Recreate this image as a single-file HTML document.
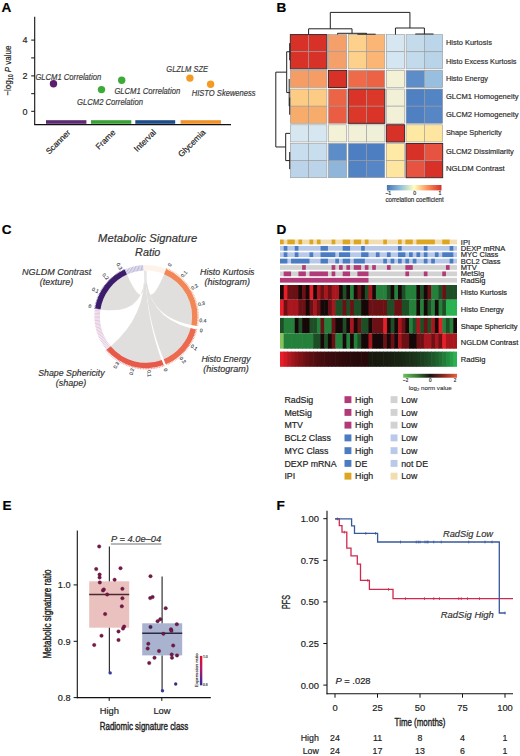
<!DOCTYPE html>
<html><head><meta charset="utf-8"><style>
html,body{margin:0;padding:0;background:#fff;}
svg{display:block;}
text{font-family:"Liberation Sans", sans-serif;}
</style></head><body>
<svg width="520" height="756" viewBox="0 0 520 756" font-family="&quot;Liberation Sans&quot;, sans-serif">
<rect x="0" y="0" width="520" height="756" fill="#fff"/>
<text x="1.50" y="12.20" font-size="13.60" text-anchor="start" fill="#000" font-weight="bold"  stroke="#000" stroke-width="0.18">A</text>
<text x="276.50" y="12.20" font-size="13.60" text-anchor="start" fill="#000" font-weight="bold"  stroke="#000" stroke-width="0.18">B</text>
<text x="1.80" y="234.30" font-size="13.60" text-anchor="start" fill="#000" font-weight="bold"  stroke="#000" stroke-width="0.18">C</text>
<text x="276.50" y="234.30" font-size="13.60" text-anchor="start" fill="#000" font-weight="bold"  stroke="#000" stroke-width="0.18">D</text>
<text x="2.50" y="509.90" font-size="13.60" text-anchor="start" fill="#000" font-weight="bold"  stroke="#000" stroke-width="0.18">E</text>
<text x="276.50" y="509.90" font-size="13.60" text-anchor="start" fill="#000" font-weight="bold"  stroke="#000" stroke-width="0.18">F</text>
<line x1="34.70" y1="16.80" x2="34.70" y2="124.80" stroke="#111" stroke-width="1.10" />
<line x1="34.20" y1="124.60" x2="231.00" y2="124.60" stroke="#111" stroke-width="1.10" />
<line x1="31.20" y1="40.10" x2="34.70" y2="40.10" stroke="#111" stroke-width="1.00" />
<text x="27.40" y="43.30" font-size="9.00" text-anchor="end" fill="#222"  stroke="#222" stroke-width="0.18">4</text>
<line x1="31.20" y1="57.90" x2="34.70" y2="57.90" stroke="#111" stroke-width="1.00" />
<line x1="31.20" y1="75.90" x2="34.70" y2="75.90" stroke="#111" stroke-width="1.00" />
<text x="27.40" y="79.10" font-size="9.00" text-anchor="end" fill="#222"  stroke="#222" stroke-width="0.18">2</text>
<line x1="31.20" y1="93.70" x2="34.70" y2="93.70" stroke="#111" stroke-width="1.00" />
<line x1="31.20" y1="111.30" x2="34.70" y2="111.30" stroke="#111" stroke-width="1.00" />
<text x="27.40" y="114.50" font-size="9.00" text-anchor="end" fill="#222"  stroke="#222" stroke-width="0.18">0</text>
<text transform="translate(11.0,70.6) rotate(-90)" font-size="9.4" text-anchor="middle" fill="#222" stroke="#222" stroke-width="0.18" textLength="50" lengthAdjust="spacingAndGlyphs">&#8722;log<tspan font-size="6.3" dy="2">10</tspan><tspan dy="-2"> </tspan><tspan font-style="italic">P</tspan> value</text>
<rect x="46.00" y="120.20" width="40.40" height="3.60" fill="#5b2a73" />
<rect x="91.00" y="120.20" width="40.30" height="3.60" fill="#3aa036" />
<rect x="135.30" y="120.20" width="39.90" height="3.60" fill="#1f4d8a" />
<rect x="180.60" y="120.20" width="40.40" height="3.60" fill="#f0922a" />
<circle cx="53.50" cy="83.70" r="3.70" fill="#5b1f6e" />
<circle cx="101.50" cy="89.60" r="3.70" fill="#3dab38" />
<circle cx="121.70" cy="80.30" r="3.70" fill="#3dab38" />
<circle cx="189.90" cy="78.10" r="3.70" fill="#f39a24" />
<circle cx="210.60" cy="84.20" r="3.70" fill="#f39a24" />
<text x="35.40" y="79.60" font-size="8.30" text-anchor="start" fill="#3a3a3a" font-style="italic" textLength="65.80" lengthAdjust="spacingAndGlyphs"  stroke="#3a3a3a" stroke-width="0.18">GLCM1 Correlation</text>
<text x="77.10" y="104.50" font-size="8.30" text-anchor="start" fill="#3a3a3a" font-style="italic" textLength="65.80" lengthAdjust="spacingAndGlyphs"  stroke="#3a3a3a" stroke-width="0.18">GLCM2 Correlation</text>
<text x="114.40" y="93.60" font-size="8.30" text-anchor="start" fill="#3a3a3a" font-style="italic" textLength="65.80" lengthAdjust="spacingAndGlyphs"  stroke="#3a3a3a" stroke-width="0.18">GLCM1 Correlation</text>
<text x="166.30" y="72.30" font-size="8.30" text-anchor="start" fill="#3a3a3a" font-style="italic" textLength="41.70" lengthAdjust="spacingAndGlyphs"  stroke="#3a3a3a" stroke-width="0.18">GLZLM SZE</text>
<text x="191.70" y="96.40" font-size="8.30" text-anchor="start" fill="#3a3a3a" font-style="italic" textLength="63.90" lengthAdjust="spacingAndGlyphs"  stroke="#3a3a3a" stroke-width="0.18">HISTO Skeweness</text>
<text transform="translate(71.00,133.00) rotate(-45)" font-size="8.3" text-anchor="end" fill="#222" stroke="#222" stroke-width="0.18">Scanner</text>
<text transform="translate(116.00,133.00) rotate(-45)" font-size="8.3" text-anchor="end" fill="#222" stroke="#222" stroke-width="0.18">Frame</text>
<text transform="translate(156.60,133.00) rotate(-45)" font-size="8.3" text-anchor="end" fill="#222" stroke="#222" stroke-width="0.18">Interval</text>
<text transform="translate(206.00,133.00) rotate(-45)" font-size="8.3" text-anchor="end" fill="#222" stroke="#222" stroke-width="0.18">Glycemia</text>
<rect x="290.30" y="34.60" width="18.30" height="17.14" fill="#d83127" stroke="#9a9a9a" stroke-width="0.6"/>
<rect x="308.60" y="34.60" width="18.30" height="17.14" fill="#d83127" stroke="#9a9a9a" stroke-width="0.6"/>
<rect x="328.40" y="34.60" width="18.30" height="17.14" fill="#f5a06a" stroke="#9a9a9a" stroke-width="0.6"/>
<rect x="348.20" y="34.60" width="18.30" height="17.14" fill="#fdd08c" stroke="#9a9a9a" stroke-width="0.6"/>
<rect x="366.50" y="34.60" width="18.30" height="17.14" fill="#fbb676" stroke="#9a9a9a" stroke-width="0.6"/>
<rect x="386.30" y="34.60" width="18.30" height="17.14" fill="#d6e7f1" stroke="#9a9a9a" stroke-width="0.6"/>
<rect x="406.10" y="34.60" width="18.30" height="17.14" fill="#c4dbec" stroke="#9a9a9a" stroke-width="0.6"/>
<rect x="424.40" y="34.60" width="18.30" height="17.14" fill="#bbd5ea" stroke="#9a9a9a" stroke-width="0.6"/>
<rect x="290.30" y="51.74" width="18.30" height="17.14" fill="#d83127" stroke="#9a9a9a" stroke-width="0.6"/>
<rect x="308.60" y="51.74" width="18.30" height="17.14" fill="#d83127" stroke="#9a9a9a" stroke-width="0.6"/>
<rect x="328.40" y="51.74" width="18.30" height="17.14" fill="#f5a06a" stroke="#9a9a9a" stroke-width="0.6"/>
<rect x="348.20" y="51.74" width="18.30" height="17.14" fill="#fdd08c" stroke="#9a9a9a" stroke-width="0.6"/>
<rect x="366.50" y="51.74" width="18.30" height="17.14" fill="#fbb676" stroke="#9a9a9a" stroke-width="0.6"/>
<rect x="386.30" y="51.74" width="18.30" height="17.14" fill="#d4e6f1" stroke="#9a9a9a" stroke-width="0.6"/>
<rect x="406.10" y="51.74" width="18.30" height="17.14" fill="#c2daeb" stroke="#9a9a9a" stroke-width="0.6"/>
<rect x="424.40" y="51.74" width="18.30" height="17.14" fill="#b9d3e9" stroke="#9a9a9a" stroke-width="0.6"/>
<rect x="290.30" y="70.38" width="18.30" height="17.14" fill="#f59d64" stroke="#9a9a9a" stroke-width="0.6"/>
<rect x="308.60" y="70.38" width="18.30" height="17.14" fill="#f59d64" stroke="#9a9a9a" stroke-width="0.6"/>
<rect x="328.40" y="70.38" width="18.30" height="17.14" fill="#d83127" stroke="#9a9a9a" stroke-width="0.6"/>
<rect x="348.20" y="70.38" width="18.30" height="17.14" fill="#ee6a48" stroke="#9a9a9a" stroke-width="0.6"/>
<rect x="366.50" y="70.38" width="18.30" height="17.14" fill="#ec6245" stroke="#9a9a9a" stroke-width="0.6"/>
<rect x="386.30" y="70.38" width="18.30" height="17.14" fill="#f4f2d6" stroke="#9a9a9a" stroke-width="0.6"/>
<rect x="406.10" y="70.38" width="18.30" height="17.14" fill="#5d8dc8" stroke="#9a9a9a" stroke-width="0.6"/>
<rect x="424.40" y="70.38" width="18.30" height="17.14" fill="#98bfe0" stroke="#9a9a9a" stroke-width="0.6"/>
<rect x="290.30" y="89.02" width="18.30" height="17.14" fill="#fdcc84" stroke="#9a9a9a" stroke-width="0.6"/>
<rect x="308.60" y="89.02" width="18.30" height="17.14" fill="#fdcc84" stroke="#9a9a9a" stroke-width="0.6"/>
<rect x="328.40" y="89.02" width="18.30" height="17.14" fill="#ec6446" stroke="#9a9a9a" stroke-width="0.6"/>
<rect x="348.20" y="89.02" width="18.30" height="17.14" fill="#da3429" stroke="#9a9a9a" stroke-width="0.6"/>
<rect x="366.50" y="89.02" width="18.30" height="17.14" fill="#dc382a" stroke="#9a9a9a" stroke-width="0.6"/>
<rect x="386.30" y="89.02" width="18.30" height="17.14" fill="#f2f1d8" stroke="#9a9a9a" stroke-width="0.6"/>
<rect x="406.10" y="89.02" width="18.30" height="17.14" fill="#4f80c2" stroke="#9a9a9a" stroke-width="0.6"/>
<rect x="424.40" y="89.02" width="18.30" height="17.14" fill="#5384c4" stroke="#9a9a9a" stroke-width="0.6"/>
<rect x="290.30" y="106.16" width="18.30" height="17.14" fill="#f8ac6c" stroke="#9a9a9a" stroke-width="0.6"/>
<rect x="308.60" y="106.16" width="18.30" height="17.14" fill="#f8ac6c" stroke="#9a9a9a" stroke-width="0.6"/>
<rect x="328.40" y="106.16" width="18.30" height="17.14" fill="#ea5d42" stroke="#9a9a9a" stroke-width="0.6"/>
<rect x="348.20" y="106.16" width="18.30" height="17.14" fill="#dc382a" stroke="#9a9a9a" stroke-width="0.6"/>
<rect x="366.50" y="106.16" width="18.30" height="17.14" fill="#da3429" stroke="#9a9a9a" stroke-width="0.6"/>
<rect x="386.30" y="106.16" width="18.30" height="17.14" fill="#f2f1d8" stroke="#9a9a9a" stroke-width="0.6"/>
<rect x="406.10" y="106.16" width="18.30" height="17.14" fill="#4f80c2" stroke="#9a9a9a" stroke-width="0.6"/>
<rect x="424.40" y="106.16" width="18.30" height="17.14" fill="#5686c5" stroke="#9a9a9a" stroke-width="0.6"/>
<rect x="290.30" y="124.80" width="18.30" height="17.14" fill="#d6e7f1" stroke="#9a9a9a" stroke-width="0.6"/>
<rect x="308.60" y="124.80" width="18.30" height="17.14" fill="#d6e7f1" stroke="#9a9a9a" stroke-width="0.6"/>
<rect x="328.40" y="124.80" width="18.30" height="17.14" fill="#f3f1d6" stroke="#9a9a9a" stroke-width="0.6"/>
<rect x="348.20" y="124.80" width="18.30" height="17.14" fill="#f2f0d6" stroke="#9a9a9a" stroke-width="0.6"/>
<rect x="366.50" y="124.80" width="18.30" height="17.14" fill="#f0efd8" stroke="#9a9a9a" stroke-width="0.6"/>
<rect x="386.30" y="124.80" width="18.30" height="17.14" fill="#d83127" stroke="#9a9a9a" stroke-width="0.6"/>
<rect x="406.10" y="124.80" width="18.30" height="17.14" fill="#fee9a2" stroke="#9a9a9a" stroke-width="0.6"/>
<rect x="424.40" y="124.80" width="18.30" height="17.14" fill="#fee6a0" stroke="#9a9a9a" stroke-width="0.6"/>
<rect x="290.30" y="143.44" width="18.30" height="17.14" fill="#c8ddee" stroke="#9a9a9a" stroke-width="0.6"/>
<rect x="308.60" y="143.44" width="18.30" height="17.14" fill="#c8ddee" stroke="#9a9a9a" stroke-width="0.6"/>
<rect x="328.40" y="143.44" width="18.30" height="17.14" fill="#5d8dc8" stroke="#9a9a9a" stroke-width="0.6"/>
<rect x="348.20" y="143.44" width="18.30" height="17.14" fill="#4c7ec1" stroke="#9a9a9a" stroke-width="0.6"/>
<rect x="366.50" y="143.44" width="18.30" height="17.14" fill="#4c7ec1" stroke="#9a9a9a" stroke-width="0.6"/>
<rect x="386.30" y="143.44" width="18.30" height="17.14" fill="#feeaa4" stroke="#9a9a9a" stroke-width="0.6"/>
<rect x="406.10" y="143.44" width="18.30" height="17.14" fill="#d83127" stroke="#9a9a9a" stroke-width="0.6"/>
<rect x="424.40" y="143.44" width="18.30" height="17.14" fill="#e65340" stroke="#9a9a9a" stroke-width="0.6"/>
<rect x="290.30" y="160.58" width="18.30" height="17.14" fill="#bcd4e9" stroke="#9a9a9a" stroke-width="0.6"/>
<rect x="308.60" y="160.58" width="18.30" height="17.14" fill="#bcd4e9" stroke="#9a9a9a" stroke-width="0.6"/>
<rect x="328.40" y="160.58" width="18.30" height="17.14" fill="#8fb6da" stroke="#9a9a9a" stroke-width="0.6"/>
<rect x="348.20" y="160.58" width="18.30" height="17.14" fill="#5182c3" stroke="#9a9a9a" stroke-width="0.6"/>
<rect x="366.50" y="160.58" width="18.30" height="17.14" fill="#5686c5" stroke="#9a9a9a" stroke-width="0.6"/>
<rect x="386.30" y="160.58" width="18.30" height="17.14" fill="#fee6a0" stroke="#9a9a9a" stroke-width="0.6"/>
<rect x="406.10" y="160.58" width="18.30" height="17.14" fill="#e65340" stroke="#9a9a9a" stroke-width="0.6"/>
<rect x="424.40" y="160.58" width="18.30" height="17.14" fill="#d83127" stroke="#9a9a9a" stroke-width="0.6"/>
<rect x="290.30" y="34.60" width="36.60" height="34.28" fill="none" stroke="#3a2020" stroke-width="0.9"/>
<rect x="328.40" y="70.38" width="18.30" height="17.14" fill="none" stroke="#3a2020" stroke-width="0.9"/>
<rect x="348.20" y="89.02" width="36.60" height="34.28" fill="none" stroke="#3a2020" stroke-width="0.9"/>
<rect x="386.30" y="124.80" width="18.30" height="17.14" fill="none" stroke="#3a2020" stroke-width="0.9"/>
<rect x="406.10" y="143.44" width="36.60" height="34.28" fill="none" stroke="#3a2020" stroke-width="0.9"/>
<text x="445.90" y="45.40" font-size="8.10" text-anchor="start" fill="#2a2a2a" textLength="46.00" lengthAdjust="spacingAndGlyphs"  stroke="#2a2a2a" stroke-width="0.18">Histo Kurtosis</text>
<text x="445.90" y="63.70" font-size="8.10" text-anchor="start" fill="#2a2a2a" textLength="70.60" lengthAdjust="spacingAndGlyphs"  stroke="#2a2a2a" stroke-width="0.18">Histo Excess Kurtosis</text>
<text x="445.90" y="81.30" font-size="8.10" text-anchor="start" fill="#2a2a2a" textLength="42.00" lengthAdjust="spacingAndGlyphs"  stroke="#2a2a2a" stroke-width="0.18">Histo Energy</text>
<text x="445.90" y="99.20" font-size="8.10" text-anchor="start" fill="#2a2a2a" textLength="72.70" lengthAdjust="spacingAndGlyphs"  stroke="#2a2a2a" stroke-width="0.18">GLCM1 Homogeneity</text>
<text x="445.90" y="117.30" font-size="8.10" text-anchor="start" fill="#2a2a2a" textLength="72.70" lengthAdjust="spacingAndGlyphs"  stroke="#2a2a2a" stroke-width="0.18">GLCM2 Homogeneity</text>
<text x="445.90" y="135.40" font-size="8.10" text-anchor="start" fill="#2a2a2a" textLength="55.90" lengthAdjust="spacingAndGlyphs"  stroke="#2a2a2a" stroke-width="0.18">Shape Sphericity</text>
<text x="445.90" y="153.70" font-size="8.10" text-anchor="start" fill="#2a2a2a" textLength="68.00" lengthAdjust="spacingAndGlyphs"  stroke="#2a2a2a" stroke-width="0.18">GLCM2 Dissimilarity</text>
<text x="445.90" y="170.50" font-size="8.10" text-anchor="start" fill="#2a2a2a" textLength="58.80" lengthAdjust="spacingAndGlyphs"  stroke="#2a2a2a" stroke-width="0.18">NGLDM Contrast</text>
<line x1="357.35" y1="34.20" x2="375.65" y2="34.20" stroke="#222" stroke-width="1.00" />
<line x1="366.50" y1="34.20" x2="366.50" y2="33.30" stroke="#222" stroke-width="1.00" />
<line x1="337.55" y1="33.30" x2="366.50" y2="33.30" stroke="#222" stroke-width="1.00" />
<line x1="337.55" y1="33.30" x2="337.55" y2="34.60" stroke="#222" stroke-width="1.00" />
<line x1="308.60" y1="28.80" x2="352.02" y2="28.80" stroke="#222" stroke-width="1.00" />
<line x1="308.60" y1="28.80" x2="308.60" y2="34.60" stroke="#222" stroke-width="1.00" />
<line x1="352.02" y1="28.80" x2="352.02" y2="33.30" stroke="#222" stroke-width="1.00" />
<line x1="415.25" y1="34.00" x2="433.55" y2="34.00" stroke="#222" stroke-width="1.00" />
<line x1="395.45" y1="28.00" x2="424.40" y2="28.00" stroke="#222" stroke-width="1.00" />
<line x1="395.45" y1="28.00" x2="395.45" y2="34.60" stroke="#222" stroke-width="1.00" />
<line x1="424.40" y1="28.00" x2="424.40" y2="34.00" stroke="#222" stroke-width="1.00" />
<line x1="330.31" y1="12.40" x2="409.93" y2="12.40" stroke="#222" stroke-width="1.00" />
<line x1="330.31" y1="12.40" x2="330.31" y2="28.80" stroke="#222" stroke-width="1.00" />
<line x1="409.93" y1="12.40" x2="409.93" y2="28.00" stroke="#222" stroke-width="1.00" />
<line x1="289.70" y1="43.17" x2="289.70" y2="60.31" stroke="#222" stroke-width="1.00" />
<line x1="289.70" y1="97.59" x2="289.70" y2="114.73" stroke="#222" stroke-width="1.00" />
<line x1="289.20" y1="78.95" x2="289.20" y2="106.16" stroke="#222" stroke-width="1.00" />
<line x1="286.70" y1="51.74" x2="286.70" y2="92.55" stroke="#222" stroke-width="1.00" />
<line x1="286.70" y1="51.74" x2="290.00" y2="51.74" stroke="#222" stroke-width="1.00" />
<line x1="286.70" y1="92.55" x2="290.00" y2="92.55" stroke="#222" stroke-width="1.00" />
<line x1="289.70" y1="152.01" x2="289.70" y2="169.15" stroke="#222" stroke-width="1.00" />
<line x1="285.70" y1="133.37" x2="285.70" y2="160.58" stroke="#222" stroke-width="1.00" />
<line x1="285.70" y1="133.37" x2="290.00" y2="133.37" stroke="#222" stroke-width="1.00" />
<line x1="285.70" y1="160.58" x2="290.00" y2="160.58" stroke="#222" stroke-width="1.00" />
<line x1="275.80" y1="72.15" x2="275.80" y2="146.97" stroke="#222" stroke-width="1.00" />
<line x1="275.80" y1="72.15" x2="286.70" y2="72.15" stroke="#222" stroke-width="1.00" />
<line x1="275.80" y1="146.97" x2="285.70" y2="146.97" stroke="#222" stroke-width="1.00" />
<defs><linearGradient id="rdylbu" x1="0" x2="1" y1="0" y2="0"><stop offset="0" stop-color="#4575b4"/><stop offset="0.25" stop-color="#91bfdb"/><stop offset="0.5" stop-color="#ffffbf"/><stop offset="0.75" stop-color="#fc8d59"/><stop offset="1" stop-color="#d73027"/></linearGradient></defs>
<rect x="386.90" y="185.00" width="54.60" height="5.40" fill="url(#rdylbu)" />
<line x1="388.20" y1="190.40" x2="388.20" y2="191.40" stroke="#333" stroke-width="0.50" />
<line x1="414.20" y1="190.40" x2="414.20" y2="191.40" stroke="#333" stroke-width="0.50" />
<line x1="440.20" y1="190.40" x2="440.20" y2="191.40" stroke="#333" stroke-width="0.50" />
<text x="388.20" y="195.30" font-size="5.20" text-anchor="middle" fill="#333"  stroke="#333" stroke-width="0.18">&#8722;1</text>
<text x="414.60" y="195.30" font-size="5.20" text-anchor="middle" fill="#333"  stroke="#333" stroke-width="0.18">0</text>
<text x="440.00" y="195.30" font-size="5.20" text-anchor="middle" fill="#333"  stroke="#333" stroke-width="0.18">1</text>
<text x="414.60" y="202.20" font-size="6.30" text-anchor="middle" fill="#333" textLength="58.40" lengthAdjust="spacingAndGlyphs"  stroke="#333" stroke-width="0.18">correlation coefficient</text>
<path d="M100.47,309.39 A46.10,46.10 0 0 1 126.96,274.62 Q146.00,316.60 143.91,270.55 A46.10,46.10 0 0 1 144.63,270.52 Q146.00,316.60 100.47,309.39 Z" fill="#e0dfdd"/>
<path d="M161.39,360.06 A46.10,46.10 0 0 1 110.69,346.23 Q146.00,316.60 144.63,270.52 A46.10,46.10 0 0 1 145.28,270.51 Q146.00,316.60 161.39,360.06 Z" fill="#e0dfdd"/>
<path d="M190.61,328.22 A46.10,46.10 0 0 1 163.64,359.19 Q146.00,316.60 145.28,270.51 A46.10,46.10 0 0 1 145.84,270.50 Q146.00,316.60 190.61,328.22 Z" fill="#e0dfdd"/>
<path d="M164.16,274.23 A46.10,46.10 0 0 1 191.34,324.92 Q146.00,316.60 145.84,270.50 A46.10,46.10 0 0 1 146.48,270.50 Q146.00,316.60 164.16,274.23 Z" fill="#e0dfdd"/>
<path d="M95.04,308.53 A51.60,51.60 0 0 1 124.68,269.61 L126.96,274.62 A46.10,46.10 0 0 0 100.47,309.39 Z" fill="#3b1d6c" />
<path d="M143.75,265.05 A51.60,51.60 0 0 1 166.16,269.10 L164.01,274.16 A46.10,46.10 0 0 0 143.99,270.54 Z" fill="#fef3ea" />
<path d="M166.16,269.10 A51.60,51.60 0 0 1 196.72,326.09 L191.31,325.08 A46.10,46.10 0 0 0 164.01,274.16 Z" fill="#f18757" />
<path d="M195.98,329.43 A51.60,51.60 0 0 1 165.75,364.27 L163.64,359.19 A46.10,46.10 0 0 0 190.65,328.06 Z" fill="#ec6a4f" />
<path d="M163.65,365.09 A51.60,51.60 0 0 1 106.47,349.77 L110.69,346.23 A46.10,46.10 0 0 0 161.77,359.92 Z" fill="#e65a4a" />
<line x1="127.56" y1="274.35" x2="125.36" y2="269.31" stroke="#8f86bc" stroke-width="0.60" />
<line x1="128.79" y1="273.83" x2="126.73" y2="268.73" stroke="#8f86bc" stroke-width="0.60" />
<line x1="130.03" y1="273.36" x2="128.12" y2="268.20" stroke="#8f86bc" stroke-width="0.60" />
<line x1="131.28" y1="272.91" x2="129.52" y2="267.70" stroke="#8f86bc" stroke-width="0.60" />
<line x1="132.54" y1="272.51" x2="130.94" y2="267.25" stroke="#8f86bc" stroke-width="0.60" />
<line x1="133.82" y1="272.14" x2="132.36" y2="266.83" stroke="#8f86bc" stroke-width="0.60" />
<line x1="135.10" y1="271.81" x2="133.80" y2="266.46" stroke="#8f86bc" stroke-width="0.60" />
<line x1="136.40" y1="271.51" x2="135.25" y2="266.13" stroke="#8f86bc" stroke-width="0.60" />
<line x1="137.70" y1="271.25" x2="136.71" y2="265.84" stroke="#8f86bc" stroke-width="0.60" />
<line x1="139.01" y1="271.03" x2="138.17" y2="265.60" stroke="#8f86bc" stroke-width="0.60" />
<line x1="140.32" y1="270.85" x2="139.64" y2="265.39" stroke="#8f86bc" stroke-width="0.60" />
<line x1="141.64" y1="270.71" x2="141.12" y2="265.23" stroke="#8f86bc" stroke-width="0.60" />
<line x1="142.96" y1="270.60" x2="142.60" y2="265.11" stroke="#8f86bc" stroke-width="0.60" />
<line x1="110.26" y1="345.72" x2="106.00" y2="349.20" stroke="#cfa0c8" stroke-width="0.60" />
<line x1="109.44" y1="344.68" x2="105.08" y2="348.03" stroke="#cfa0c8" stroke-width="0.60" />
<line x1="108.65" y1="343.62" x2="104.19" y2="346.84" stroke="#cfa0c8" stroke-width="0.60" />
<line x1="107.88" y1="342.53" x2="103.34" y2="345.62" stroke="#cfa0c8" stroke-width="0.60" />
<line x1="107.15" y1="341.42" x2="102.52" y2="344.38" stroke="#cfa0c8" stroke-width="0.60" />
<line x1="106.45" y1="340.29" x2="101.74" y2="343.12" stroke="#cfa0c8" stroke-width="0.60" />
<line x1="105.79" y1="339.14" x2="100.99" y2="341.83" stroke="#cfa0c8" stroke-width="0.60" />
<line x1="105.16" y1="337.98" x2="100.28" y2="340.53" stroke="#cfa0c8" stroke-width="0.60" />
<line x1="104.56" y1="336.79" x2="99.61" y2="339.20" stroke="#cfa0c8" stroke-width="0.60" />
<line x1="103.99" y1="335.59" x2="98.98" y2="337.85" stroke="#cfa0c8" stroke-width="0.60" />
<line x1="103.46" y1="334.37" x2="98.39" y2="336.49" stroke="#cfa0c8" stroke-width="0.60" />
<line x1="102.97" y1="333.14" x2="97.84" y2="335.11" stroke="#cfa0c8" stroke-width="0.60" />
<line x1="102.51" y1="331.89" x2="97.32" y2="333.72" stroke="#cfa0c8" stroke-width="0.60" />
<line x1="102.09" y1="330.64" x2="96.85" y2="332.31" stroke="#cfa0c8" stroke-width="0.60" />
<line x1="101.70" y1="329.36" x2="96.42" y2="330.89" stroke="#cfa0c8" stroke-width="0.60" />
<line x1="101.35" y1="328.08" x2="96.03" y2="329.45" stroke="#cfa0c8" stroke-width="0.60" />
<line x1="101.04" y1="326.79" x2="95.68" y2="328.01" stroke="#cfa0c8" stroke-width="0.60" />
<line x1="100.77" y1="325.50" x2="95.37" y2="326.56" stroke="#cfa0c8" stroke-width="0.60" />
<line x1="100.53" y1="324.19" x2="95.10" y2="325.09" stroke="#cfa0c8" stroke-width="0.60" />
<line x1="100.33" y1="322.88" x2="94.88" y2="323.63" stroke="#cfa0c8" stroke-width="0.60" />
<line x1="100.17" y1="321.56" x2="94.70" y2="322.15" stroke="#cfa0c8" stroke-width="0.60" />
<line x1="100.04" y1="320.24" x2="94.56" y2="320.67" stroke="#cfa0c8" stroke-width="0.60" />
<line x1="99.96" y1="318.91" x2="94.46" y2="319.19" stroke="#cfa0c8" stroke-width="0.60" />
<line x1="99.91" y1="317.59" x2="94.41" y2="317.70" stroke="#cfa0c8" stroke-width="0.60" />
<line x1="99.90" y1="316.26" x2="94.40" y2="316.22" stroke="#cfa0c8" stroke-width="0.60" />
<line x1="99.93" y1="314.93" x2="94.43" y2="314.73" stroke="#cfa0c8" stroke-width="0.60" />
<line x1="100.00" y1="313.60" x2="94.51" y2="313.25" stroke="#cfa0c8" stroke-width="0.60" />
<line x1="100.10" y1="312.28" x2="94.63" y2="311.77" stroke="#cfa0c8" stroke-width="0.60" />
<line x1="100.25" y1="310.96" x2="94.79" y2="310.29" stroke="#cfa0c8" stroke-width="0.60" />
<line x1="100.43" y1="309.65" x2="94.99" y2="308.82" stroke="#cfa0c8" stroke-width="0.60" />
<line x1="166.08" y1="269.29" x2="166.67" y2="267.91" stroke="#f18757" stroke-width="0.60" />
<line x1="167.51" y1="269.92" x2="168.14" y2="268.56" stroke="#f18757" stroke-width="0.60" />
<line x1="168.92" y1="270.59" x2="169.59" y2="269.25" stroke="#f18757" stroke-width="0.60" />
<line x1="170.30" y1="271.31" x2="171.01" y2="269.99" stroke="#f18757" stroke-width="0.60" />
<line x1="171.67" y1="272.07" x2="172.42" y2="270.77" stroke="#f18757" stroke-width="0.60" />
<line x1="173.01" y1="272.87" x2="173.80" y2="271.59" stroke="#f18757" stroke-width="0.60" />
<line x1="174.32" y1="273.71" x2="175.15" y2="272.46" stroke="#f18757" stroke-width="0.60" />
<line x1="175.61" y1="274.59" x2="176.48" y2="273.36" stroke="#f18757" stroke-width="0.60" />
<line x1="176.88" y1="275.51" x2="177.78" y2="274.31" stroke="#f18757" stroke-width="0.60" />
<line x1="178.11" y1="276.46" x2="179.05" y2="275.29" stroke="#f18757" stroke-width="0.60" />
<line x1="179.31" y1="277.46" x2="180.29" y2="276.31" stroke="#f18757" stroke-width="0.60" />
<line x1="180.49" y1="278.49" x2="181.49" y2="277.37" stroke="#f18757" stroke-width="0.60" />
<line x1="181.63" y1="279.55" x2="182.67" y2="278.47" stroke="#f18757" stroke-width="0.60" />
<line x1="182.74" y1="280.65" x2="183.81" y2="279.60" stroke="#f18757" stroke-width="0.60" />
<line x1="183.81" y1="281.78" x2="184.91" y2="280.77" stroke="#f18757" stroke-width="0.60" />
<line x1="184.85" y1="282.95" x2="185.98" y2="281.96" stroke="#f18757" stroke-width="0.60" />
<line x1="185.85" y1="284.14" x2="187.02" y2="283.19" stroke="#f18757" stroke-width="0.60" />
<line x1="186.82" y1="285.37" x2="188.01" y2="284.46" stroke="#f18757" stroke-width="0.60" />
<line x1="187.75" y1="286.62" x2="188.97" y2="285.75" stroke="#f18757" stroke-width="0.60" />
<line x1="188.64" y1="287.90" x2="189.89" y2="287.06" stroke="#f18757" stroke-width="0.60" />
<line x1="189.49" y1="289.21" x2="190.76" y2="288.41" stroke="#f18757" stroke-width="0.60" />
<line x1="190.31" y1="290.54" x2="191.60" y2="289.78" stroke="#f18757" stroke-width="0.60" />
<line x1="191.08" y1="291.90" x2="192.39" y2="291.18" stroke="#f18757" stroke-width="0.60" />
<line x1="191.81" y1="293.28" x2="193.14" y2="292.60" stroke="#f18757" stroke-width="0.60" />
<line x1="192.49" y1="294.68" x2="193.85" y2="294.04" stroke="#f18757" stroke-width="0.60" />
<line x1="193.14" y1="296.10" x2="194.51" y2="295.51" stroke="#f18757" stroke-width="0.60" />
<line x1="193.74" y1="297.55" x2="195.13" y2="296.99" stroke="#f18757" stroke-width="0.60" />
<line x1="194.29" y1="299.00" x2="195.70" y2="298.49" stroke="#f18757" stroke-width="0.60" />
<line x1="194.81" y1="300.48" x2="196.23" y2="300.01" stroke="#f18757" stroke-width="0.60" />
<line x1="195.27" y1="301.97" x2="196.71" y2="301.54" stroke="#f18757" stroke-width="0.60" />
<line x1="195.69" y1="303.47" x2="197.14" y2="303.09" stroke="#f18757" stroke-width="0.60" />
<line x1="196.07" y1="304.99" x2="197.53" y2="304.65" stroke="#f18757" stroke-width="0.60" />
<line x1="196.40" y1="306.51" x2="197.87" y2="306.22" stroke="#f18757" stroke-width="0.60" />
<line x1="196.68" y1="308.05" x2="198.16" y2="307.80" stroke="#f18757" stroke-width="0.60" />
<line x1="196.92" y1="309.59" x2="198.41" y2="309.38" stroke="#f18757" stroke-width="0.60" />
<line x1="197.11" y1="311.14" x2="198.60" y2="310.98" stroke="#f18757" stroke-width="0.60" />
<line x1="197.25" y1="312.69" x2="198.75" y2="312.58" stroke="#f18757" stroke-width="0.60" />
<line x1="197.35" y1="314.25" x2="198.84" y2="314.18" stroke="#f18757" stroke-width="0.60" />
<line x1="197.39" y1="315.81" x2="198.89" y2="315.79" stroke="#f18757" stroke-width="0.60" />
<line x1="197.39" y1="317.37" x2="198.89" y2="317.39" stroke="#f18757" stroke-width="0.60" />
<line x1="197.35" y1="318.93" x2="198.85" y2="319.00" stroke="#f18757" stroke-width="0.60" />
<line x1="197.25" y1="320.49" x2="198.75" y2="320.60" stroke="#f18757" stroke-width="0.60" />
<line x1="197.11" y1="322.04" x2="198.60" y2="322.20" stroke="#f18757" stroke-width="0.60" />
<line x1="196.92" y1="323.59" x2="198.41" y2="323.80" stroke="#f18757" stroke-width="0.60" />
<line x1="196.69" y1="325.14" x2="198.17" y2="325.39" stroke="#f18757" stroke-width="0.60" />
<line x1="195.79" y1="329.38" x2="197.24" y2="329.76" stroke="#ec6a4f" stroke-width="0.60" />
<line x1="195.37" y1="330.89" x2="196.81" y2="331.31" stroke="#ec6a4f" stroke-width="0.60" />
<line x1="194.92" y1="332.38" x2="196.35" y2="332.84" stroke="#ec6a4f" stroke-width="0.60" />
<line x1="194.42" y1="333.86" x2="195.83" y2="334.36" stroke="#ec6a4f" stroke-width="0.60" />
<line x1="193.87" y1="335.32" x2="195.27" y2="335.87" stroke="#ec6a4f" stroke-width="0.60" />
<line x1="193.28" y1="336.77" x2="194.66" y2="337.35" stroke="#ec6a4f" stroke-width="0.60" />
<line x1="192.64" y1="338.19" x2="194.01" y2="338.82" stroke="#ec6a4f" stroke-width="0.60" />
<line x1="191.97" y1="339.60" x2="193.31" y2="340.27" stroke="#ec6a4f" stroke-width="0.60" />
<line x1="191.25" y1="340.98" x2="192.57" y2="341.70" stroke="#ec6a4f" stroke-width="0.60" />
<line x1="190.49" y1="342.35" x2="191.79" y2="343.10" stroke="#ec6a4f" stroke-width="0.60" />
<line x1="189.68" y1="343.69" x2="190.96" y2="344.48" stroke="#ec6a4f" stroke-width="0.60" />
<line x1="188.84" y1="345.00" x2="190.09" y2="345.83" stroke="#ec6a4f" stroke-width="0.60" />
<line x1="187.96" y1="346.29" x2="189.18" y2="347.15" stroke="#ec6a4f" stroke-width="0.60" />
<line x1="187.04" y1="347.55" x2="188.24" y2="348.45" stroke="#ec6a4f" stroke-width="0.60" />
<line x1="186.08" y1="348.78" x2="187.25" y2="349.72" stroke="#ec6a4f" stroke-width="0.60" />
<line x1="185.08" y1="349.98" x2="186.23" y2="350.96" stroke="#ec6a4f" stroke-width="0.60" />
<line x1="184.05" y1="351.15" x2="185.16" y2="352.16" stroke="#ec6a4f" stroke-width="0.60" />
<line x1="182.99" y1="352.29" x2="184.07" y2="353.33" stroke="#ec6a4f" stroke-width="0.60" />
<line x1="181.89" y1="353.40" x2="182.93" y2="354.47" stroke="#ec6a4f" stroke-width="0.60" />
<line x1="180.75" y1="354.47" x2="181.77" y2="355.58" stroke="#ec6a4f" stroke-width="0.60" />
<line x1="179.59" y1="355.51" x2="180.57" y2="356.65" stroke="#ec6a4f" stroke-width="0.60" />
<line x1="178.39" y1="356.51" x2="179.33" y2="357.68" stroke="#ec6a4f" stroke-width="0.60" />
<line x1="177.16" y1="357.48" x2="178.07" y2="358.67" stroke="#ec6a4f" stroke-width="0.60" />
<line x1="175.91" y1="358.40" x2="176.78" y2="359.62" stroke="#ec6a4f" stroke-width="0.60" />
<line x1="174.62" y1="359.29" x2="175.46" y2="360.54" stroke="#ec6a4f" stroke-width="0.60" />
<line x1="173.31" y1="360.14" x2="174.11" y2="361.41" stroke="#ec6a4f" stroke-width="0.60" />
<line x1="171.98" y1="360.95" x2="172.74" y2="362.25" stroke="#ec6a4f" stroke-width="0.60" />
<line x1="170.62" y1="361.72" x2="171.34" y2="363.04" stroke="#ec6a4f" stroke-width="0.60" />
<line x1="169.24" y1="362.45" x2="169.92" y2="363.78" stroke="#ec6a4f" stroke-width="0.60" />
<line x1="167.84" y1="363.13" x2="168.47" y2="364.49" stroke="#ec6a4f" stroke-width="0.60" />
<line x1="166.41" y1="363.77" x2="167.01" y2="365.15" stroke="#ec6a4f" stroke-width="0.60" />
<line x1="163.58" y1="364.90" x2="164.09" y2="366.31" stroke="#e65a4a" stroke-width="0.60" />
<line x1="162.11" y1="365.41" x2="162.58" y2="366.84" stroke="#e65a4a" stroke-width="0.60" />
<line x1="160.62" y1="365.88" x2="161.04" y2="367.32" stroke="#e65a4a" stroke-width="0.60" />
<line x1="159.11" y1="366.30" x2="159.50" y2="367.75" stroke="#e65a4a" stroke-width="0.60" />
<line x1="157.60" y1="366.67" x2="157.94" y2="368.14" stroke="#e65a4a" stroke-width="0.60" />
<line x1="156.07" y1="367.00" x2="156.37" y2="368.47" stroke="#e65a4a" stroke-width="0.60" />
<line x1="154.54" y1="367.29" x2="154.79" y2="368.77" stroke="#e65a4a" stroke-width="0.60" />
<line x1="152.99" y1="367.52" x2="153.20" y2="369.01" stroke="#e65a4a" stroke-width="0.60" />
<line x1="151.44" y1="367.71" x2="151.60" y2="369.20" stroke="#e65a4a" stroke-width="0.60" />
<line x1="149.89" y1="367.85" x2="150.00" y2="369.35" stroke="#e65a4a" stroke-width="0.60" />
<line x1="148.33" y1="367.95" x2="148.40" y2="369.45" stroke="#e65a4a" stroke-width="0.60" />
<line x1="146.77" y1="367.99" x2="146.79" y2="369.49" stroke="#e65a4a" stroke-width="0.60" />
<line x1="145.21" y1="367.99" x2="145.19" y2="369.49" stroke="#e65a4a" stroke-width="0.60" />
<line x1="143.65" y1="367.95" x2="143.58" y2="369.44" stroke="#e65a4a" stroke-width="0.60" />
<line x1="142.09" y1="367.85" x2="141.98" y2="369.35" stroke="#e65a4a" stroke-width="0.60" />
<line x1="140.54" y1="367.71" x2="140.38" y2="369.20" stroke="#e65a4a" stroke-width="0.60" />
<line x1="138.99" y1="367.52" x2="138.78" y2="369.01" stroke="#e65a4a" stroke-width="0.60" />
<line x1="137.45" y1="367.28" x2="137.20" y2="368.76" stroke="#e65a4a" stroke-width="0.60" />
<line x1="135.91" y1="367.00" x2="135.62" y2="368.47" stroke="#e65a4a" stroke-width="0.60" />
<line x1="134.39" y1="366.67" x2="134.05" y2="368.13" stroke="#e65a4a" stroke-width="0.60" />
<line x1="132.87" y1="366.29" x2="132.49" y2="367.74" stroke="#e65a4a" stroke-width="0.60" />
<line x1="131.37" y1="365.87" x2="130.94" y2="367.31" stroke="#e65a4a" stroke-width="0.60" />
<line x1="129.88" y1="365.41" x2="129.41" y2="366.83" stroke="#e65a4a" stroke-width="0.60" />
<line x1="128.40" y1="364.89" x2="127.89" y2="366.30" stroke="#e65a4a" stroke-width="0.60" />
<line x1="126.95" y1="364.34" x2="126.39" y2="365.73" stroke="#e65a4a" stroke-width="0.60" />
<line x1="125.50" y1="363.74" x2="124.91" y2="365.11" stroke="#e65a4a" stroke-width="0.60" />
<line x1="124.08" y1="363.09" x2="123.44" y2="364.45" stroke="#e65a4a" stroke-width="0.60" />
<line x1="122.68" y1="362.41" x2="122.00" y2="363.74" stroke="#e65a4a" stroke-width="0.60" />
<line x1="121.30" y1="361.68" x2="120.58" y2="362.99" stroke="#e65a4a" stroke-width="0.60" />
<line x1="119.94" y1="360.91" x2="119.18" y2="362.20" stroke="#e65a4a" stroke-width="0.60" />
<line x1="118.61" y1="360.09" x2="117.81" y2="361.36" stroke="#e65a4a" stroke-width="0.60" />
<line x1="117.30" y1="359.24" x2="116.46" y2="360.49" stroke="#e65a4a" stroke-width="0.60" />
<line x1="116.02" y1="358.35" x2="115.15" y2="359.57" stroke="#e65a4a" stroke-width="0.60" />
<line x1="114.77" y1="357.42" x2="113.86" y2="358.61" stroke="#e65a4a" stroke-width="0.60" />
<line x1="113.54" y1="356.45" x2="112.59" y2="357.62" stroke="#e65a4a" stroke-width="0.60" />
<line x1="112.35" y1="355.45" x2="111.36" y2="356.58" stroke="#e65a4a" stroke-width="0.60" />
<line x1="111.18" y1="354.41" x2="110.17" y2="355.51" stroke="#e65a4a" stroke-width="0.60" />
<line x1="110.05" y1="353.34" x2="109.00" y2="354.41" stroke="#e65a4a" stroke-width="0.60" />
<line x1="108.95" y1="352.23" x2="107.87" y2="353.27" stroke="#e65a4a" stroke-width="0.60" />
<line x1="107.89" y1="351.09" x2="106.77" y2="352.09" stroke="#e65a4a" stroke-width="0.60" />
<line x1="106.86" y1="349.91" x2="105.71" y2="350.89" stroke="#e65a4a" stroke-width="0.60" />
<line x1="95.23" y1="308.56" x2="94.25" y2="308.40" stroke="#3b1d6c" stroke-width="0.60" />
<line x1="95.50" y1="307.02" x2="94.52" y2="306.84" stroke="#3b1d6c" stroke-width="0.60" />
<line x1="95.81" y1="305.49" x2="94.84" y2="305.28" stroke="#3b1d6c" stroke-width="0.60" />
<line x1="96.17" y1="303.97" x2="95.21" y2="303.73" stroke="#3b1d6c" stroke-width="0.60" />
<line x1="96.58" y1="302.47" x2="95.62" y2="302.19" stroke="#3b1d6c" stroke-width="0.60" />
<line x1="97.03" y1="300.97" x2="96.08" y2="300.67" stroke="#3b1d6c" stroke-width="0.60" />
<line x1="97.53" y1="299.49" x2="96.59" y2="299.16" stroke="#3b1d6c" stroke-width="0.60" />
<line x1="98.07" y1="298.03" x2="97.14" y2="297.67" stroke="#3b1d6c" stroke-width="0.60" />
<line x1="98.66" y1="296.58" x2="97.74" y2="296.19" stroke="#3b1d6c" stroke-width="0.60" />
<line x1="99.29" y1="295.15" x2="98.38" y2="294.74" stroke="#3b1d6c" stroke-width="0.60" />
<line x1="99.96" y1="293.75" x2="99.06" y2="293.30" stroke="#3b1d6c" stroke-width="0.60" />
<line x1="100.68" y1="292.36" x2="99.79" y2="291.89" stroke="#3b1d6c" stroke-width="0.60" />
<line x1="101.43" y1="290.99" x2="100.57" y2="290.50" stroke="#3b1d6c" stroke-width="0.60" />
<line x1="102.23" y1="289.65" x2="101.38" y2="289.13" stroke="#3b1d6c" stroke-width="0.60" />
<line x1="103.07" y1="288.34" x2="102.23" y2="287.79" stroke="#3b1d6c" stroke-width="0.60" />
<line x1="103.95" y1="287.04" x2="103.13" y2="286.47" stroke="#3b1d6c" stroke-width="0.60" />
<line x1="104.86" y1="285.78" x2="104.06" y2="285.18" stroke="#3b1d6c" stroke-width="0.60" />
<line x1="105.82" y1="284.55" x2="105.04" y2="283.92" stroke="#3b1d6c" stroke-width="0.60" />
<line x1="106.81" y1="283.34" x2="106.05" y2="282.69" stroke="#3b1d6c" stroke-width="0.60" />
<line x1="107.84" y1="282.17" x2="107.10" y2="281.50" stroke="#3b1d6c" stroke-width="0.60" />
<line x1="108.90" y1="281.02" x2="108.18" y2="280.33" stroke="#3b1d6c" stroke-width="0.60" />
<line x1="110.00" y1="279.91" x2="109.30" y2="279.20" stroke="#3b1d6c" stroke-width="0.60" />
<line x1="111.13" y1="278.84" x2="110.45" y2="278.10" stroke="#3b1d6c" stroke-width="0.60" />
<line x1="112.29" y1="277.80" x2="111.64" y2="277.04" stroke="#3b1d6c" stroke-width="0.60" />
<line x1="113.49" y1="276.79" x2="112.85" y2="276.02" stroke="#3b1d6c" stroke-width="0.60" />
<line x1="114.71" y1="275.82" x2="114.10" y2="275.03" stroke="#3b1d6c" stroke-width="0.60" />
<line x1="115.96" y1="274.89" x2="115.38" y2="274.08" stroke="#3b1d6c" stroke-width="0.60" />
<line x1="117.24" y1="274.00" x2="116.68" y2="273.17" stroke="#3b1d6c" stroke-width="0.60" />
<line x1="118.55" y1="273.14" x2="118.02" y2="272.30" stroke="#3b1d6c" stroke-width="0.60" />
<line x1="119.88" y1="272.33" x2="119.37" y2="271.47" stroke="#3b1d6c" stroke-width="0.60" />
<line x1="121.24" y1="271.56" x2="120.76" y2="270.68" stroke="#3b1d6c" stroke-width="0.60" />
<line x1="122.62" y1="270.83" x2="122.16" y2="269.94" stroke="#3b1d6c" stroke-width="0.60" />
<line x1="124.02" y1="270.14" x2="123.59" y2="269.23" stroke="#3b1d6c" stroke-width="0.60" />
<text transform="translate(89.92,306.41) rotate(-349.7)" font-size="5" text-anchor="middle" fill="#343a48" stroke="#343a48" stroke-width="0.12" dy="1.7">0</text>
<text transform="translate(95.44,290.28) rotate(-332.5)" font-size="5" text-anchor="middle" fill="#343a48" stroke="#343a48" stroke-width="0.12" dy="1.7">0.1</text>
<text transform="translate(105.55,276.44) rotate(-315.2)" font-size="5" text-anchor="middle" fill="#343a48" stroke="#343a48" stroke-width="0.12" dy="1.7">0.2</text>
<text transform="translate(119.33,266.23) rotate(-297.9)" font-size="5" text-anchor="middle" fill="#343a48" stroke="#343a48" stroke-width="0.12" dy="1.7">0.3</text>
<text transform="translate(169.73,264.77) rotate(-65.4)" font-size="5" text-anchor="middle" fill="#343a48" stroke="#343a48" stroke-width="0.12" dy="1.7">0</text>
<text transform="translate(183.92,274.04) rotate(-48.3)" font-size="5" text-anchor="middle" fill="#343a48" stroke="#343a48" stroke-width="0.12" dy="1.7">0.1</text>
<text transform="translate(194.60,286.82) rotate(-31.5)" font-size="5" text-anchor="middle" fill="#343a48" stroke="#343a48" stroke-width="0.12" dy="1.7">0.2</text>
<text transform="translate(201.54,303.78) rotate(-13.0)" font-size="5" text-anchor="middle" fill="#343a48" stroke="#343a48" stroke-width="0.12" dy="1.7">0.3</text>
<text transform="translate(202.86,320.58) rotate(4.0)" font-size="5" text-anchor="middle" fill="#343a48" stroke="#343a48" stroke-width="0.12" dy="1.7">0.4</text>
<text transform="translate(201.31,330.39) rotate(14.0)" font-size="5" text-anchor="middle" fill="#343a48" stroke="#343a48" stroke-width="0.12" dy="1.7">0</text>
<text transform="translate(193.97,347.39) rotate(32.7)" font-size="5" text-anchor="middle" fill="#343a48" stroke="#343a48" stroke-width="0.12" dy="1.7">0.1</text>
<text transform="translate(182.87,360.07) rotate(49.7)" font-size="5" text-anchor="middle" fill="#343a48" stroke="#343a48" stroke-width="0.12" dy="1.7">0.2</text>
<text transform="translate(165.68,370.09) rotate(69.8)" font-size="5" text-anchor="middle" fill="#343a48" stroke="#343a48" stroke-width="0.12" dy="1.7">0</text>
<text transform="translate(149.08,373.52) rotate(86.9)" font-size="5" text-anchor="middle" fill="#343a48" stroke="#343a48" stroke-width="0.12" dy="1.7">0.1</text>
<text transform="translate(131.63,371.76) rotate(-75.4)" font-size="5" text-anchor="middle" fill="#343a48" stroke="#343a48" stroke-width="0.12" dy="1.7">0.2</text>
<text transform="translate(116.30,365.25) rotate(-58.6)" font-size="5" text-anchor="middle" fill="#343a48" stroke="#343a48" stroke-width="0.12" dy="1.7">0.3</text>
<text x="147.70" y="241.60" font-size="10.80" text-anchor="middle" fill="#333" font-style="italic" textLength="99.20" lengthAdjust="spacingAndGlyphs"  stroke="#333" stroke-width="0.18">Metabolic Signature</text>
<text x="147.70" y="255.50" font-size="10.80" text-anchor="middle" fill="#333" font-style="italic"  stroke="#333" stroke-width="0.18">Ratio</text>
<text x="56.70" y="274.70" font-size="9.00" text-anchor="middle" fill="#333" font-style="italic" textLength="69.20" lengthAdjust="spacingAndGlyphs"  stroke="#333" stroke-width="0.18">NGLDM Contrast</text>
<text x="56.60" y="284.60" font-size="9.00" text-anchor="middle" fill="#333" font-style="italic"  stroke="#333" stroke-width="0.18">(texture)</text>
<text x="227.30" y="274.80" font-size="9.00" text-anchor="middle" fill="#333" font-style="italic" textLength="54.50" lengthAdjust="spacingAndGlyphs"  stroke="#333" stroke-width="0.18">Histo Kurtosis</text>
<text x="227.30" y="284.90" font-size="9.00" text-anchor="middle" fill="#333" font-style="italic"  stroke="#333" stroke-width="0.18">(histogram)</text>
<text x="226.00" y="361.50" font-size="9.00" text-anchor="middle" fill="#333" font-style="italic" textLength="49.20" lengthAdjust="spacingAndGlyphs"  stroke="#333" stroke-width="0.18">Histo Energy</text>
<text x="226.00" y="371.60" font-size="9.00" text-anchor="middle" fill="#333" font-style="italic"  stroke="#333" stroke-width="0.18">(histogram)</text>
<text x="71.40" y="376.30" font-size="9.00" text-anchor="middle" fill="#333" font-style="italic" textLength="66.30" lengthAdjust="spacingAndGlyphs"  stroke="#333" stroke-width="0.18">Shape Sphericity</text>
<text x="71.00" y="386.40" font-size="9.00" text-anchor="middle" fill="#333" font-style="italic"  stroke="#333" stroke-width="0.18">(shape)</text>
<rect x="280.00" y="239.60" width="177.00" height="4.70" fill="#f1ddb0" />
<rect x="280.00" y="239.60" width="3.69" height="4.70" fill="#dca623" />
<rect x="287.38" y="239.60" width="7.38" height="4.70" fill="#dca623" />
<rect x="298.44" y="239.60" width="3.69" height="4.70" fill="#dca623" />
<rect x="309.50" y="239.60" width="3.69" height="4.70" fill="#dca623" />
<rect x="316.88" y="239.60" width="3.69" height="4.70" fill="#dca623" />
<rect x="331.62" y="239.60" width="3.69" height="4.70" fill="#dca623" />
<rect x="342.69" y="239.60" width="7.38" height="4.70" fill="#dca623" />
<rect x="353.75" y="239.60" width="7.38" height="4.70" fill="#dca623" />
<rect x="364.81" y="239.60" width="3.69" height="4.70" fill="#dca623" />
<rect x="383.25" y="239.60" width="3.69" height="4.70" fill="#dca623" />
<rect x="398.00" y="239.60" width="3.69" height="4.70" fill="#dca623" />
<rect x="405.38" y="239.60" width="7.38" height="4.70" fill="#dca623" />
<rect x="416.44" y="239.60" width="18.44" height="4.70" fill="#dca623" />
<rect x="442.25" y="239.60" width="7.38" height="4.70" fill="#dca623" />
<rect x="280.00" y="245.98" width="177.00" height="4.70" fill="#b8c9ea" />
<rect x="283.69" y="245.98" width="3.69" height="4.70" fill="#4b7cc2" />
<rect x="294.75" y="245.98" width="3.69" height="4.70" fill="#4b7cc2" />
<rect x="320.56" y="245.98" width="7.38" height="4.70" fill="#4b7cc2" />
<rect x="342.69" y="245.98" width="7.38" height="4.70" fill="#4b7cc2" />
<rect x="361.12" y="245.98" width="3.69" height="4.70" fill="#4b7cc2" />
<rect x="398.00" y="245.98" width="3.69" height="4.70" fill="#4b7cc2" />
<rect x="423.81" y="245.98" width="3.69" height="4.70" fill="#4b7cc2" />
<rect x="449.62" y="245.98" width="3.69" height="4.70" fill="#4b7cc2" />
<rect x="280.00" y="252.36" width="177.00" height="4.70" fill="#b8c9ea" />
<rect x="283.69" y="252.36" width="3.69" height="4.70" fill="#4b7cc2" />
<rect x="294.75" y="252.36" width="3.69" height="4.70" fill="#4b7cc2" />
<rect x="309.50" y="252.36" width="3.69" height="4.70" fill="#4b7cc2" />
<rect x="320.56" y="252.36" width="14.75" height="4.70" fill="#4b7cc2" />
<rect x="339.00" y="252.36" width="11.06" height="4.70" fill="#4b7cc2" />
<rect x="361.12" y="252.36" width="7.38" height="4.70" fill="#4b7cc2" />
<rect x="375.88" y="252.36" width="3.69" height="4.70" fill="#4b7cc2" />
<rect x="386.94" y="252.36" width="3.69" height="4.70" fill="#4b7cc2" />
<rect x="398.00" y="252.36" width="7.38" height="4.70" fill="#4b7cc2" />
<rect x="409.06" y="252.36" width="3.69" height="4.70" fill="#4b7cc2" />
<rect x="416.44" y="252.36" width="3.69" height="4.70" fill="#4b7cc2" />
<rect x="423.81" y="252.36" width="3.69" height="4.70" fill="#4b7cc2" />
<rect x="434.88" y="252.36" width="3.69" height="4.70" fill="#4b7cc2" />
<rect x="442.25" y="252.36" width="11.06" height="4.70" fill="#4b7cc2" />
<rect x="280.00" y="258.74" width="177.00" height="4.70" fill="#b8c9ea" />
<rect x="280.00" y="258.74" width="7.38" height="4.70" fill="#4b7cc2" />
<rect x="291.06" y="258.74" width="18.44" height="4.70" fill="#4b7cc2" />
<rect x="320.56" y="258.74" width="7.38" height="4.70" fill="#4b7cc2" />
<rect x="335.31" y="258.74" width="3.69" height="4.70" fill="#4b7cc2" />
<rect x="342.69" y="258.74" width="7.38" height="4.70" fill="#4b7cc2" />
<rect x="353.75" y="258.74" width="11.06" height="4.70" fill="#4b7cc2" />
<rect x="383.25" y="258.74" width="3.69" height="4.70" fill="#4b7cc2" />
<rect x="390.62" y="258.74" width="3.69" height="4.70" fill="#4b7cc2" />
<rect x="398.00" y="258.74" width="3.69" height="4.70" fill="#4b7cc2" />
<rect x="405.38" y="258.74" width="3.69" height="4.70" fill="#4b7cc2" />
<rect x="412.75" y="258.74" width="3.69" height="4.70" fill="#4b7cc2" />
<rect x="423.81" y="258.74" width="3.69" height="4.70" fill="#4b7cc2" />
<rect x="431.19" y="258.74" width="3.69" height="4.70" fill="#4b7cc2" />
<rect x="449.62" y="258.74" width="3.69" height="4.70" fill="#4b7cc2" />
<rect x="280.00" y="265.12" width="177.00" height="4.70" fill="#d2d2d2" />
<rect x="302.12" y="265.12" width="3.69" height="4.70" fill="#b23a78" />
<rect x="331.62" y="265.12" width="3.69" height="4.70" fill="#b23a78" />
<rect x="339.00" y="265.12" width="3.69" height="4.70" fill="#b23a78" />
<rect x="346.38" y="265.12" width="3.69" height="4.70" fill="#b23a78" />
<rect x="353.75" y="265.12" width="7.38" height="4.70" fill="#b23a78" />
<rect x="364.81" y="265.12" width="3.69" height="4.70" fill="#b23a78" />
<rect x="372.19" y="265.12" width="3.69" height="4.70" fill="#b23a78" />
<rect x="386.94" y="265.12" width="3.69" height="4.70" fill="#b23a78" />
<rect x="405.38" y="265.12" width="7.38" height="4.70" fill="#b23a78" />
<rect x="445.94" y="265.12" width="3.69" height="4.70" fill="#b23a78" />
<rect x="280.00" y="271.50" width="177.00" height="4.70" fill="#d2d2d2" />
<rect x="283.69" y="271.50" width="7.38" height="4.70" fill="#b23a78" />
<rect x="298.44" y="271.50" width="7.38" height="4.70" fill="#b23a78" />
<rect x="309.50" y="271.50" width="18.44" height="4.70" fill="#b23a78" />
<rect x="331.62" y="271.50" width="3.69" height="4.70" fill="#b23a78" />
<rect x="342.69" y="271.50" width="7.38" height="4.70" fill="#b23a78" />
<rect x="357.44" y="271.50" width="11.06" height="4.70" fill="#b23a78" />
<rect x="405.38" y="271.50" width="3.69" height="4.70" fill="#b23a78" />
<rect x="423.81" y="271.50" width="3.69" height="4.70" fill="#b23a78" />
<rect x="442.25" y="271.50" width="3.69" height="4.70" fill="#b23a78" />
<rect x="280.00" y="277.88" width="177.00" height="4.70" fill="#d2d2d2" />
<rect x="280.00" y="277.88" width="88.50" height="4.70" fill="#b23a78" />
<rect x="280.00" y="285.00" width="4.29" height="14.70" fill="#160808" />
<rect x="283.69" y="285.00" width="4.29" height="14.70" fill="#e81e28" />
<rect x="287.38" y="285.00" width="4.29" height="14.70" fill="#6b1014" />
<rect x="291.06" y="285.00" width="4.29" height="14.70" fill="#6b1014" />
<rect x="294.75" y="285.00" width="4.29" height="14.70" fill="#6b1014" />
<rect x="298.44" y="285.00" width="4.29" height="14.70" fill="#160808" />
<rect x="302.12" y="285.00" width="4.29" height="14.70" fill="#6b1014" />
<rect x="305.81" y="285.00" width="4.29" height="14.70" fill="#160808" />
<rect x="309.50" y="285.00" width="4.29" height="14.70" fill="#e81e28" />
<rect x="313.19" y="285.00" width="4.29" height="14.70" fill="#160808" />
<rect x="316.88" y="285.00" width="4.29" height="14.70" fill="#a9171e" />
<rect x="320.56" y="285.00" width="4.29" height="14.70" fill="#6b1014" />
<rect x="324.25" y="285.00" width="4.29" height="14.70" fill="#a9171e" />
<rect x="327.94" y="285.00" width="4.29" height="14.70" fill="#6b1014" />
<rect x="331.62" y="285.00" width="4.29" height="14.70" fill="#a9171e" />
<rect x="335.31" y="285.00" width="4.29" height="14.70" fill="#a9171e" />
<rect x="339.00" y="285.00" width="4.29" height="14.70" fill="#160808" />
<rect x="342.69" y="285.00" width="4.29" height="14.70" fill="#1e4e25" />
<rect x="346.38" y="285.00" width="4.29" height="14.70" fill="#160808" />
<rect x="350.06" y="285.00" width="4.29" height="14.70" fill="#24803a" />
<rect x="353.75" y="285.00" width="4.29" height="14.70" fill="#160808" />
<rect x="357.44" y="285.00" width="4.29" height="14.70" fill="#6b1014" />
<rect x="361.12" y="285.00" width="4.29" height="14.70" fill="#160808" />
<rect x="364.81" y="285.00" width="4.29" height="14.70" fill="#1e4e25" />
<rect x="368.50" y="285.00" width="4.29" height="14.70" fill="#a9171e" />
<rect x="372.19" y="285.00" width="4.29" height="14.70" fill="#160808" />
<rect x="375.88" y="285.00" width="4.29" height="14.70" fill="#24803a" />
<rect x="379.56" y="285.00" width="4.29" height="14.70" fill="#24803a" />
<rect x="383.25" y="285.00" width="4.29" height="14.70" fill="#24803a" />
<rect x="386.94" y="285.00" width="4.29" height="14.70" fill="#1e4e25" />
<rect x="390.62" y="285.00" width="4.29" height="14.70" fill="#160808" />
<rect x="394.31" y="285.00" width="4.29" height="14.70" fill="#24803a" />
<rect x="398.00" y="285.00" width="4.29" height="14.70" fill="#160808" />
<rect x="401.69" y="285.00" width="4.29" height="14.70" fill="#1e4e25" />
<rect x="405.38" y="285.00" width="4.29" height="14.70" fill="#24803a" />
<rect x="409.06" y="285.00" width="4.29" height="14.70" fill="#24803a" />
<rect x="412.75" y="285.00" width="4.29" height="14.70" fill="#24803a" />
<rect x="416.44" y="285.00" width="4.29" height="14.70" fill="#160808" />
<rect x="420.12" y="285.00" width="4.29" height="14.70" fill="#1e4e25" />
<rect x="423.81" y="285.00" width="4.29" height="14.70" fill="#160808" />
<rect x="427.50" y="285.00" width="4.29" height="14.70" fill="#6b1014" />
<rect x="431.19" y="285.00" width="4.29" height="14.70" fill="#24803a" />
<rect x="434.88" y="285.00" width="4.29" height="14.70" fill="#24803a" />
<rect x="438.56" y="285.00" width="4.29" height="14.70" fill="#1e4e25" />
<rect x="442.25" y="285.00" width="4.29" height="14.70" fill="#6b1014" />
<rect x="445.94" y="285.00" width="4.29" height="14.70" fill="#1e4e25" />
<rect x="449.62" y="285.00" width="4.29" height="14.70" fill="#1e4e25" />
<rect x="453.31" y="285.00" width="3.69" height="14.70" fill="#1e4e25" />
<rect x="280.00" y="299.70" width="4.29" height="16.00" fill="#e81e28" />
<rect x="283.69" y="299.70" width="4.29" height="16.00" fill="#6b1014" />
<rect x="287.38" y="299.70" width="4.29" height="16.00" fill="#a9171e" />
<rect x="291.06" y="299.70" width="4.29" height="16.00" fill="#a9171e" />
<rect x="294.75" y="299.70" width="4.29" height="16.00" fill="#a9171e" />
<rect x="298.44" y="299.70" width="4.29" height="16.00" fill="#6b1014" />
<rect x="302.12" y="299.70" width="4.29" height="16.00" fill="#6b1014" />
<rect x="305.81" y="299.70" width="4.29" height="16.00" fill="#160808" />
<rect x="309.50" y="299.70" width="4.29" height="16.00" fill="#6b1014" />
<rect x="313.19" y="299.70" width="4.29" height="16.00" fill="#a9171e" />
<rect x="316.88" y="299.70" width="4.29" height="16.00" fill="#6b1014" />
<rect x="320.56" y="299.70" width="4.29" height="16.00" fill="#160808" />
<rect x="324.25" y="299.70" width="4.29" height="16.00" fill="#160808" />
<rect x="327.94" y="299.70" width="4.29" height="16.00" fill="#6b1014" />
<rect x="331.62" y="299.70" width="4.29" height="16.00" fill="#a9171e" />
<rect x="335.31" y="299.70" width="4.29" height="16.00" fill="#1e4e25" />
<rect x="339.00" y="299.70" width="4.29" height="16.00" fill="#1e4e25" />
<rect x="342.69" y="299.70" width="4.29" height="16.00" fill="#6b1014" />
<rect x="346.38" y="299.70" width="4.29" height="16.00" fill="#1e4e25" />
<rect x="350.06" y="299.70" width="4.29" height="16.00" fill="#6b1014" />
<rect x="353.75" y="299.70" width="4.29" height="16.00" fill="#1e4e25" />
<rect x="357.44" y="299.70" width="4.29" height="16.00" fill="#1e4e25" />
<rect x="361.12" y="299.70" width="4.29" height="16.00" fill="#160808" />
<rect x="364.81" y="299.70" width="4.29" height="16.00" fill="#160808" />
<rect x="368.50" y="299.70" width="4.29" height="16.00" fill="#6b1014" />
<rect x="372.19" y="299.70" width="4.29" height="16.00" fill="#6b1014" />
<rect x="375.88" y="299.70" width="4.29" height="16.00" fill="#6b1014" />
<rect x="379.56" y="299.70" width="4.29" height="16.00" fill="#6b1014" />
<rect x="383.25" y="299.70" width="4.29" height="16.00" fill="#6b1014" />
<rect x="386.94" y="299.70" width="4.29" height="16.00" fill="#1e4e25" />
<rect x="390.62" y="299.70" width="4.29" height="16.00" fill="#1e4e25" />
<rect x="394.31" y="299.70" width="4.29" height="16.00" fill="#6b1014" />
<rect x="398.00" y="299.70" width="4.29" height="16.00" fill="#6b1014" />
<rect x="401.69" y="299.70" width="4.29" height="16.00" fill="#1e4e25" />
<rect x="405.38" y="299.70" width="4.29" height="16.00" fill="#1e4e25" />
<rect x="409.06" y="299.70" width="4.29" height="16.00" fill="#24803a" />
<rect x="412.75" y="299.70" width="4.29" height="16.00" fill="#24803a" />
<rect x="416.44" y="299.70" width="4.29" height="16.00" fill="#160808" />
<rect x="420.12" y="299.70" width="4.29" height="16.00" fill="#24803a" />
<rect x="423.81" y="299.70" width="4.29" height="16.00" fill="#160808" />
<rect x="427.50" y="299.70" width="4.29" height="16.00" fill="#1e4e25" />
<rect x="431.19" y="299.70" width="4.29" height="16.00" fill="#24803a" />
<rect x="434.88" y="299.70" width="4.29" height="16.00" fill="#160808" />
<rect x="438.56" y="299.70" width="4.29" height="16.00" fill="#24803a" />
<rect x="442.25" y="299.70" width="4.29" height="16.00" fill="#1e4e25" />
<rect x="445.94" y="299.70" width="4.29" height="16.00" fill="#2ab250" />
<rect x="449.62" y="299.70" width="4.29" height="16.00" fill="#2ab250" />
<rect x="453.31" y="299.70" width="3.69" height="16.00" fill="#2ab250" />
<rect x="280.00" y="317.90" width="4.29" height="15.50" fill="#1e4e25" />
<rect x="283.69" y="317.90" width="4.29" height="15.50" fill="#24803a" />
<rect x="287.38" y="317.90" width="4.29" height="15.50" fill="#24803a" />
<rect x="291.06" y="317.90" width="4.29" height="15.50" fill="#24803a" />
<rect x="294.75" y="317.90" width="4.29" height="15.50" fill="#160808" />
<rect x="298.44" y="317.90" width="4.29" height="15.50" fill="#1e4e25" />
<rect x="302.12" y="317.90" width="4.29" height="15.50" fill="#160808" />
<rect x="305.81" y="317.90" width="4.29" height="15.50" fill="#160808" />
<rect x="309.50" y="317.90" width="4.29" height="15.50" fill="#1e4e25" />
<rect x="313.19" y="317.90" width="4.29" height="15.50" fill="#1e4e25" />
<rect x="316.88" y="317.90" width="4.29" height="15.50" fill="#24803a" />
<rect x="320.56" y="317.90" width="4.29" height="15.50" fill="#6b1014" />
<rect x="324.25" y="317.90" width="4.29" height="15.50" fill="#24803a" />
<rect x="327.94" y="317.90" width="4.29" height="15.50" fill="#24803a" />
<rect x="331.62" y="317.90" width="4.29" height="15.50" fill="#6b1014" />
<rect x="335.31" y="317.90" width="4.29" height="15.50" fill="#160808" />
<rect x="339.00" y="317.90" width="4.29" height="15.50" fill="#160808" />
<rect x="342.69" y="317.90" width="4.29" height="15.50" fill="#1e4e25" />
<rect x="346.38" y="317.90" width="4.29" height="15.50" fill="#160808" />
<rect x="350.06" y="317.90" width="4.29" height="15.50" fill="#a9171e" />
<rect x="353.75" y="317.90" width="4.29" height="15.50" fill="#160808" />
<rect x="357.44" y="317.90" width="4.29" height="15.50" fill="#6b1014" />
<rect x="361.12" y="317.90" width="4.29" height="15.50" fill="#1e4e25" />
<rect x="364.81" y="317.90" width="4.29" height="15.50" fill="#1e4e25" />
<rect x="368.50" y="317.90" width="4.29" height="15.50" fill="#160808" />
<rect x="372.19" y="317.90" width="4.29" height="15.50" fill="#6b1014" />
<rect x="375.88" y="317.90" width="4.29" height="15.50" fill="#6b1014" />
<rect x="379.56" y="317.90" width="4.29" height="15.50" fill="#6b1014" />
<rect x="383.25" y="317.90" width="4.29" height="15.50" fill="#e81e28" />
<rect x="386.94" y="317.90" width="4.29" height="15.50" fill="#160808" />
<rect x="390.62" y="317.90" width="4.29" height="15.50" fill="#1e4e25" />
<rect x="394.31" y="317.90" width="4.29" height="15.50" fill="#160808" />
<rect x="398.00" y="317.90" width="4.29" height="15.50" fill="#a9171e" />
<rect x="401.69" y="317.90" width="4.29" height="15.50" fill="#6b1014" />
<rect x="405.38" y="317.90" width="4.29" height="15.50" fill="#160808" />
<rect x="409.06" y="317.90" width="4.29" height="15.50" fill="#24803a" />
<rect x="412.75" y="317.90" width="4.29" height="15.50" fill="#1e4e25" />
<rect x="416.44" y="317.90" width="4.29" height="15.50" fill="#a9171e" />
<rect x="420.12" y="317.90" width="4.29" height="15.50" fill="#1e4e25" />
<rect x="423.81" y="317.90" width="4.29" height="15.50" fill="#6b1014" />
<rect x="427.50" y="317.90" width="4.29" height="15.50" fill="#1e4e25" />
<rect x="431.19" y="317.90" width="4.29" height="15.50" fill="#a9171e" />
<rect x="434.88" y="317.90" width="4.29" height="15.50" fill="#160808" />
<rect x="438.56" y="317.90" width="4.29" height="15.50" fill="#e81e28" />
<rect x="442.25" y="317.90" width="4.29" height="15.50" fill="#24803a" />
<rect x="445.94" y="317.90" width="4.29" height="15.50" fill="#1e4e25" />
<rect x="449.62" y="317.90" width="4.29" height="15.50" fill="#24803a" />
<rect x="453.31" y="317.90" width="3.69" height="15.50" fill="#160808" />
<rect x="280.00" y="333.40" width="4.29" height="15.30" fill="#86c25e" />
<rect x="283.69" y="333.40" width="4.29" height="15.30" fill="#24803a" />
<rect x="287.38" y="333.40" width="4.29" height="15.30" fill="#24803a" />
<rect x="291.06" y="333.40" width="4.29" height="15.30" fill="#24803a" />
<rect x="294.75" y="333.40" width="4.29" height="15.30" fill="#24803a" />
<rect x="298.44" y="333.40" width="4.29" height="15.30" fill="#24803a" />
<rect x="302.12" y="333.40" width="4.29" height="15.30" fill="#24803a" />
<rect x="305.81" y="333.40" width="4.29" height="15.30" fill="#24803a" />
<rect x="309.50" y="333.40" width="4.29" height="15.30" fill="#24803a" />
<rect x="313.19" y="333.40" width="4.29" height="15.30" fill="#1e4e25" />
<rect x="316.88" y="333.40" width="4.29" height="15.30" fill="#1e4e25" />
<rect x="320.56" y="333.40" width="4.29" height="15.30" fill="#160808" />
<rect x="324.25" y="333.40" width="4.29" height="15.30" fill="#1e4e25" />
<rect x="327.94" y="333.40" width="4.29" height="15.30" fill="#160808" />
<rect x="331.62" y="333.40" width="4.29" height="15.30" fill="#6b1014" />
<rect x="335.31" y="333.40" width="4.29" height="15.30" fill="#24803a" />
<rect x="339.00" y="333.40" width="4.29" height="15.30" fill="#24803a" />
<rect x="342.69" y="333.40" width="4.29" height="15.30" fill="#160808" />
<rect x="346.38" y="333.40" width="4.29" height="15.30" fill="#24803a" />
<rect x="350.06" y="333.40" width="4.29" height="15.30" fill="#160808" />
<rect x="353.75" y="333.40" width="4.29" height="15.30" fill="#24803a" />
<rect x="357.44" y="333.40" width="4.29" height="15.30" fill="#1e4e25" />
<rect x="361.12" y="333.40" width="4.29" height="15.30" fill="#160808" />
<rect x="364.81" y="333.40" width="4.29" height="15.30" fill="#160808" />
<rect x="368.50" y="333.40" width="4.29" height="15.30" fill="#a9171e" />
<rect x="372.19" y="333.40" width="4.29" height="15.30" fill="#160808" />
<rect x="375.88" y="333.40" width="4.29" height="15.30" fill="#160808" />
<rect x="379.56" y="333.40" width="4.29" height="15.30" fill="#160808" />
<rect x="383.25" y="333.40" width="4.29" height="15.30" fill="#6b1014" />
<rect x="386.94" y="333.40" width="4.29" height="15.30" fill="#160808" />
<rect x="390.62" y="333.40" width="4.29" height="15.30" fill="#6b1014" />
<rect x="394.31" y="333.40" width="4.29" height="15.30" fill="#160808" />
<rect x="398.00" y="333.40" width="4.29" height="15.30" fill="#a9171e" />
<rect x="401.69" y="333.40" width="4.29" height="15.30" fill="#6b1014" />
<rect x="405.38" y="333.40" width="4.29" height="15.30" fill="#6b1014" />
<rect x="409.06" y="333.40" width="4.29" height="15.30" fill="#160808" />
<rect x="412.75" y="333.40" width="4.29" height="15.30" fill="#160808" />
<rect x="416.44" y="333.40" width="4.29" height="15.30" fill="#6b1014" />
<rect x="420.12" y="333.40" width="4.29" height="15.30" fill="#6b1014" />
<rect x="423.81" y="333.40" width="4.29" height="15.30" fill="#a9171e" />
<rect x="427.50" y="333.40" width="4.29" height="15.30" fill="#a9171e" />
<rect x="431.19" y="333.40" width="4.29" height="15.30" fill="#6b1014" />
<rect x="434.88" y="333.40" width="4.29" height="15.30" fill="#a9171e" />
<rect x="438.56" y="333.40" width="4.29" height="15.30" fill="#6b1014" />
<rect x="442.25" y="333.40" width="4.29" height="15.30" fill="#e81e28" />
<rect x="445.94" y="333.40" width="4.29" height="15.30" fill="#a9171e" />
<rect x="449.62" y="333.40" width="4.29" height="15.30" fill="#a9171e" />
<rect x="453.31" y="333.40" width="3.69" height="15.30" fill="#a9171e" />
<rect x="280.00" y="351.60" width="4.29" height="15.20" fill="#e81e28" />
<rect x="283.69" y="351.60" width="4.29" height="15.20" fill="#ce1b24" />
<rect x="287.38" y="351.60" width="4.29" height="15.20" fill="#b51820" />
<rect x="291.06" y="351.60" width="4.29" height="15.20" fill="#a0161d" />
<rect x="294.75" y="351.60" width="4.29" height="15.20" fill="#8e141a" />
<rect x="298.44" y="351.60" width="4.29" height="15.20" fill="#7e1217" />
<rect x="302.12" y="351.60" width="4.29" height="15.20" fill="#701115" />
<rect x="305.81" y="351.60" width="4.29" height="15.20" fill="#651014" />
<rect x="309.50" y="351.60" width="4.29" height="15.20" fill="#5b0f12" />
<rect x="313.19" y="351.60" width="4.29" height="15.20" fill="#520e11" />
<rect x="316.88" y="351.60" width="4.29" height="15.20" fill="#4b0d10" />
<rect x="320.56" y="351.60" width="4.29" height="15.20" fill="#440c0f" />
<rect x="324.25" y="351.60" width="4.29" height="15.20" fill="#3f0c0e" />
<rect x="327.94" y="351.60" width="4.29" height="15.20" fill="#3b0b0d" />
<rect x="331.62" y="351.60" width="4.29" height="15.20" fill="#370b0d" />
<rect x="335.31" y="351.60" width="4.29" height="15.20" fill="#340b0c" />
<rect x="339.00" y="351.60" width="4.29" height="15.20" fill="#310a0c" />
<rect x="342.69" y="351.60" width="4.29" height="15.20" fill="#2e0a0b" />
<rect x="346.38" y="351.60" width="4.29" height="15.20" fill="#2c0a0b" />
<rect x="350.06" y="351.60" width="4.29" height="15.20" fill="#2b0a0b" />
<rect x="353.75" y="351.60" width="4.29" height="15.20" fill="#290a0b" />
<rect x="357.44" y="351.60" width="4.29" height="15.20" fill="#28090a" />
<rect x="361.12" y="351.60" width="4.29" height="15.20" fill="#27090a" />
<rect x="364.81" y="351.60" width="4.29" height="15.20" fill="#27090a" />
<rect x="368.50" y="351.60" width="4.29" height="15.20" fill="#17190e" />
<rect x="372.19" y="351.60" width="4.29" height="15.20" fill="#17190e" />
<rect x="375.88" y="351.60" width="4.29" height="15.20" fill="#181a0f" />
<rect x="379.56" y="351.60" width="4.29" height="15.20" fill="#181c0f" />
<rect x="383.25" y="351.60" width="4.29" height="15.20" fill="#181d10" />
<rect x="386.94" y="351.60" width="4.29" height="15.20" fill="#181f11" />
<rect x="390.62" y="351.60" width="4.29" height="15.20" fill="#182011" />
<rect x="394.31" y="351.60" width="4.29" height="15.20" fill="#182312" />
<rect x="398.00" y="351.60" width="4.29" height="15.20" fill="#192513" />
<rect x="401.69" y="351.60" width="4.29" height="15.20" fill="#192815" />
<rect x="405.38" y="351.60" width="4.29" height="15.20" fill="#1a2c16" />
<rect x="409.06" y="351.60" width="4.29" height="15.20" fill="#1a3018" />
<rect x="412.75" y="351.60" width="4.29" height="15.20" fill="#1b341a" />
<rect x="416.44" y="351.60" width="4.29" height="15.20" fill="#1b391c" />
<rect x="420.12" y="351.60" width="4.29" height="15.20" fill="#1c3f1f" />
<rect x="423.81" y="351.60" width="4.29" height="15.20" fill="#1d4622" />
<rect x="427.50" y="351.60" width="4.29" height="15.20" fill="#1e4e25" />
<rect x="431.19" y="351.60" width="4.29" height="15.20" fill="#1f5829" />
<rect x="434.88" y="351.60" width="4.29" height="15.20" fill="#20622e" />
<rect x="438.56" y="351.60" width="4.29" height="15.20" fill="#226f33" />
<rect x="442.25" y="351.60" width="4.29" height="15.20" fill="#237d39" />
<rect x="445.94" y="351.60" width="4.29" height="15.20" fill="#258d40" />
<rect x="449.62" y="351.60" width="4.29" height="15.20" fill="#279f48" />
<rect x="453.31" y="351.60" width="3.69" height="15.20" fill="#2ab250" />
<text x="460.80" y="244.50" font-size="7.50" text-anchor="start" fill="#222"  stroke="#222" stroke-width="0.18">IPI</text>
<text x="460.80" y="250.88" font-size="7.50" text-anchor="start" fill="#222"  stroke="#222" stroke-width="0.18">DEXP mRNA</text>
<text x="460.80" y="257.26" font-size="7.50" text-anchor="start" fill="#222"  stroke="#222" stroke-width="0.18">MYC Class</text>
<text x="460.80" y="263.64" font-size="7.50" text-anchor="start" fill="#222"  stroke="#222" stroke-width="0.18">BCL2 Class</text>
<text x="460.80" y="270.02" font-size="7.50" text-anchor="start" fill="#222"  stroke="#222" stroke-width="0.18">MTV</text>
<text x="460.80" y="276.40" font-size="7.50" text-anchor="start" fill="#222"  stroke="#222" stroke-width="0.18">MetSig</text>
<text x="460.80" y="282.78" font-size="7.50" text-anchor="start" fill="#222"  stroke="#222" stroke-width="0.18">RadSig</text>
<text x="460.80" y="295.10" font-size="7.50" text-anchor="start" fill="#222"  stroke="#222" stroke-width="0.18">Histo Kurtosis</text>
<text x="460.80" y="311.90" font-size="7.50" text-anchor="start" fill="#222"  stroke="#222" stroke-width="0.18">Histo Energy</text>
<text x="460.80" y="328.50" font-size="7.50" text-anchor="start" fill="#222"  stroke="#222" stroke-width="0.18">Shape Sphericity</text>
<text x="460.80" y="344.90" font-size="7.50" text-anchor="start" fill="#222"  stroke="#222" stroke-width="0.18">NGLDM Contrast</text>
<text x="460.80" y="361.90" font-size="7.50" text-anchor="start" fill="#222"  stroke="#222" stroke-width="0.18">RadSig</text>
<defs><linearGradient id="rg" x1="0" x2="1" y1="0" y2="0"><stop offset="0" stop-color="#6cc25e"/><stop offset="0.25" stop-color="#3a7a38"/><stop offset="0.5" stop-color="#1a1410"/><stop offset="0.75" stop-color="#8a2a20"/><stop offset="1" stop-color="#e8603e"/></linearGradient></defs>
<rect x="403.20" y="373.80" width="53.80" height="3.90" fill="url(#rg)" />
<text x="405.60" y="382.20" font-size="4.60" text-anchor="middle" fill="#333"  stroke="#333" stroke-width="0.18">&#8722;2</text>
<text x="430.30" y="382.20" font-size="4.60" text-anchor="middle" fill="#333"  stroke="#333" stroke-width="0.18">0</text>
<text x="455.00" y="382.20" font-size="4.60" text-anchor="middle" fill="#333"  stroke="#333" stroke-width="0.18">2</text>
<text x="430.2" y="389.6" font-size="6.2" text-anchor="middle" fill="#333" stroke="#333" stroke-width="0.12">log<tspan font-size="4.2" dy="1.5">2</tspan><tspan dy="-1.5"> norm value</tspan></text>
<text x="284.40" y="402.80" font-size="8.80" text-anchor="start" fill="#222"  stroke="#222" stroke-width="0.18">RadSig</text>
<rect x="344.50" y="396.20" width="6.90" height="6.90" fill="#b23a78" />
<text x="355.10" y="402.80" font-size="8.80" text-anchor="start" fill="#222"  stroke="#222" stroke-width="0.18">High</text>
<rect x="390.60" y="396.20" width="6.90" height="6.90" fill="#d2d2d2" />
<text x="401.20" y="402.80" font-size="8.80" text-anchor="start" fill="#222"  stroke="#222" stroke-width="0.18">Low</text>
<text x="284.40" y="415.55" font-size="8.80" text-anchor="start" fill="#222"  stroke="#222" stroke-width="0.18">MetSig</text>
<rect x="344.50" y="408.95" width="6.90" height="6.90" fill="#b23a78" />
<text x="355.10" y="415.55" font-size="8.80" text-anchor="start" fill="#222"  stroke="#222" stroke-width="0.18">High</text>
<rect x="390.60" y="408.95" width="6.90" height="6.90" fill="#d2d2d2" />
<text x="401.20" y="415.55" font-size="8.80" text-anchor="start" fill="#222"  stroke="#222" stroke-width="0.18">Low</text>
<text x="284.40" y="428.30" font-size="8.80" text-anchor="start" fill="#222"  stroke="#222" stroke-width="0.18">MTV</text>
<rect x="344.50" y="421.70" width="6.90" height="6.90" fill="#b23a78" />
<text x="355.10" y="428.30" font-size="8.80" text-anchor="start" fill="#222"  stroke="#222" stroke-width="0.18">High</text>
<rect x="390.60" y="421.70" width="6.90" height="6.90" fill="#d2d2d2" />
<text x="401.20" y="428.30" font-size="8.80" text-anchor="start" fill="#222"  stroke="#222" stroke-width="0.18">Low</text>
<text x="284.40" y="441.05" font-size="8.80" text-anchor="start" fill="#222"  stroke="#222" stroke-width="0.18">BCL2 Class</text>
<rect x="344.50" y="434.45" width="6.90" height="6.90" fill="#4b7cc2" />
<text x="355.10" y="441.05" font-size="8.80" text-anchor="start" fill="#222"  stroke="#222" stroke-width="0.18">High</text>
<rect x="390.60" y="434.45" width="6.90" height="6.90" fill="#b8c9ea" />
<text x="401.20" y="441.05" font-size="8.80" text-anchor="start" fill="#222"  stroke="#222" stroke-width="0.18">Low</text>
<text x="284.40" y="453.80" font-size="8.80" text-anchor="start" fill="#222"  stroke="#222" stroke-width="0.18">MYC Class</text>
<rect x="344.50" y="447.20" width="6.90" height="6.90" fill="#4b7cc2" />
<text x="355.10" y="453.80" font-size="8.80" text-anchor="start" fill="#222"  stroke="#222" stroke-width="0.18">High</text>
<rect x="390.60" y="447.20" width="6.90" height="6.90" fill="#b8c9ea" />
<text x="401.20" y="453.80" font-size="8.80" text-anchor="start" fill="#222"  stroke="#222" stroke-width="0.18">Low</text>
<text x="284.40" y="466.55" font-size="8.80" text-anchor="start" fill="#222"  stroke="#222" stroke-width="0.18">DEXP mRNA</text>
<rect x="344.50" y="459.95" width="6.90" height="6.90" fill="#4b7cc2" />
<text x="355.10" y="466.55" font-size="8.80" text-anchor="start" fill="#222"  stroke="#222" stroke-width="0.18">DE</text>
<rect x="390.60" y="459.95" width="6.90" height="6.90" fill="#b8c9ea" />
<text x="401.20" y="466.55" font-size="8.80" text-anchor="start" fill="#222"  stroke="#222" stroke-width="0.18">not DE</text>
<text x="284.40" y="479.30" font-size="8.80" text-anchor="start" fill="#222"  stroke="#222" stroke-width="0.18">IPI</text>
<rect x="344.50" y="472.70" width="6.90" height="6.90" fill="#dca623" />
<text x="355.10" y="479.30" font-size="8.80" text-anchor="start" fill="#222"  stroke="#222" stroke-width="0.18">High</text>
<rect x="390.60" y="472.70" width="6.90" height="6.90" fill="#f1ddb0" />
<text x="401.20" y="479.30" font-size="8.80" text-anchor="start" fill="#222"  stroke="#222" stroke-width="0.18">Low</text>
<rect x="89.20" y="581.30" width="40.00" height="46.40" fill="#ebc1bf" />
<rect x="142.20" y="623.30" width="40.00" height="32.10" fill="#a9b3d0" />
<line x1="89.20" y1="594.50" x2="129.20" y2="594.50" stroke="#4a2a2e" stroke-width="1.50" />
<line x1="142.20" y1="633.20" x2="182.20" y2="633.20" stroke="#2a2a40" stroke-width="1.50" />
<line x1="109.40" y1="546.60" x2="109.40" y2="581.30" stroke="#333" stroke-width="1.20" />
<line x1="109.40" y1="627.70" x2="109.40" y2="673.00" stroke="#333" stroke-width="1.20" />
<line x1="162.10" y1="576.40" x2="162.10" y2="623.30" stroke="#333" stroke-width="1.20" />
<line x1="162.10" y1="655.40" x2="162.10" y2="691.80" stroke="#333" stroke-width="1.20" />
<line x1="77.30" y1="530.50" x2="77.30" y2="698.20" stroke="#111" stroke-width="1.10" />
<line x1="76.80" y1="697.60" x2="210.80" y2="697.60" stroke="#111" stroke-width="1.10" />
<line x1="73.60" y1="584.90" x2="77.30" y2="584.90" stroke="#111" stroke-width="1.00" />
<text x="70.60" y="588.20" font-size="9.20" text-anchor="end" fill="#222"  stroke="#222" stroke-width="0.18">1.0</text>
<line x1="73.60" y1="641.30" x2="77.30" y2="641.30" stroke="#111" stroke-width="1.00" />
<text x="70.60" y="644.60" font-size="9.20" text-anchor="end" fill="#222"  stroke="#222" stroke-width="0.18">0.9</text>
<line x1="73.60" y1="697.60" x2="77.30" y2="697.60" stroke="#111" stroke-width="1.00" />
<text x="70.60" y="700.90" font-size="9.20" text-anchor="end" fill="#222"  stroke="#222" stroke-width="0.18">0.8</text>
<line x1="109.20" y1="697.60" x2="109.20" y2="700.90" stroke="#111" stroke-width="1.00" />
<line x1="161.80" y1="697.60" x2="161.80" y2="700.90" stroke="#111" stroke-width="1.00" />
<text x="109.40" y="713.80" font-size="9.40" text-anchor="middle" fill="#222"  stroke="#222" stroke-width="0.18">High</text>
<text x="162.00" y="713.80" font-size="9.40" text-anchor="middle" fill="#222"  stroke="#222" stroke-width="0.18">Low</text>
<text x="144.00" y="729.60" font-size="11.00" text-anchor="middle" fill="#222" textLength="88.60" lengthAdjust="spacingAndGlyphs" stroke="#222" stroke-width="0.4">Radiomic signature class</text>
<text transform="translate(51.3,614.0) rotate(-90)" font-size="11" text-anchor="middle" fill="#222" stroke="#222" stroke-width="0.4" textLength="89" lengthAdjust="spacingAndGlyphs">Metabolic signature ratio</text>
<text x="111.1" y="542.3" font-size="8.3" font-style="italic" fill="#333" stroke="#333" stroke-width="0.18" textLength="50" lengthAdjust="spacingAndGlyphs">P = 4.0e&#8211;04</text>
<line x1="110.80" y1="544.00" x2="161.50" y2="544.00" stroke="#333" stroke-width="0.70" />
<circle cx="99.20" cy="546.40" r="1.75" fill="#7a1646" stroke="#4a1030" stroke-width="0.35"/>
<circle cx="96.20" cy="569.10" r="1.75" fill="#7a1646" stroke="#4a1030" stroke-width="0.35"/>
<circle cx="120.50" cy="568.20" r="1.75" fill="#7a1646" stroke="#4a1030" stroke-width="0.35"/>
<circle cx="99.60" cy="574.60" r="1.75" fill="#7a1646" stroke="#4a1030" stroke-width="0.35"/>
<circle cx="99.60" cy="577.50" r="1.75" fill="#7a1646" stroke="#4a1030" stroke-width="0.35"/>
<circle cx="114.60" cy="579.70" r="1.75" fill="#7a1646" stroke="#4a1030" stroke-width="0.35"/>
<circle cx="99.80" cy="582.40" r="1.75" fill="#7a1646" stroke="#4a1030" stroke-width="0.35"/>
<circle cx="103.00" cy="590.40" r="1.75" fill="#7a1646" stroke="#4a1030" stroke-width="0.35"/>
<circle cx="103.80" cy="589.40" r="1.75" fill="#7a1646" stroke="#4a1030" stroke-width="0.35"/>
<circle cx="107.20" cy="594.50" r="1.75" fill="#7a1646" stroke="#4a1030" stroke-width="0.35"/>
<circle cx="122.40" cy="588.80" r="1.75" fill="#7a1646" stroke="#4a1030" stroke-width="0.35"/>
<circle cx="122.40" cy="598.30" r="1.75" fill="#7a1646" stroke="#4a1030" stroke-width="0.35"/>
<circle cx="121.80" cy="606.30" r="1.75" fill="#7a1646" stroke="#4a1030" stroke-width="0.35"/>
<circle cx="105.10" cy="614.10" r="1.75" fill="#7a1646" stroke="#4a1030" stroke-width="0.35"/>
<circle cx="124.10" cy="626.60" r="1.75" fill="#7a1646" stroke="#4a1030" stroke-width="0.35"/>
<circle cx="123.00" cy="628.60" r="1.75" fill="#7a1646" stroke="#4a1030" stroke-width="0.35"/>
<circle cx="118.50" cy="631.40" r="1.75" fill="#7a1646" stroke="#4a1030" stroke-width="0.35"/>
<circle cx="101.50" cy="635.70" r="1.75" fill="#7a1646" stroke="#4a1030" stroke-width="0.35"/>
<circle cx="118.50" cy="640.00" r="1.75" fill="#7a1646" stroke="#4a1030" stroke-width="0.35"/>
<circle cx="94.20" cy="645.00" r="1.75" fill="#7a1646" stroke="#4a1030" stroke-width="0.35"/>
<circle cx="110.20" cy="672.90" r="1.70" fill="#3a3a9a" />
<circle cx="150.50" cy="576.20" r="1.75" fill="#741848" stroke="#4a1030" stroke-width="0.35"/>
<circle cx="150.20" cy="598.10" r="1.75" fill="#741848" stroke="#4a1030" stroke-width="0.35"/>
<circle cx="152.60" cy="597.00" r="1.75" fill="#741848" stroke="#4a1030" stroke-width="0.35"/>
<circle cx="165.70" cy="608.20" r="1.75" fill="#741848" stroke="#4a1030" stroke-width="0.35"/>
<circle cx="157.60" cy="621.20" r="1.75" fill="#741848" stroke="#4a1030" stroke-width="0.35"/>
<circle cx="160.30" cy="619.20" r="1.75" fill="#741848" stroke="#4a1030" stroke-width="0.35"/>
<circle cx="176.80" cy="624.20" r="1.75" fill="#741848" stroke="#4a1030" stroke-width="0.35"/>
<circle cx="171.00" cy="629.30" r="1.75" fill="#741848" stroke="#4a1030" stroke-width="0.35"/>
<circle cx="171.40" cy="630.80" r="1.75" fill="#741848" stroke="#4a1030" stroke-width="0.35"/>
<circle cx="163.40" cy="633.80" r="1.75" fill="#741848" stroke="#4a1030" stroke-width="0.35"/>
<circle cx="148.30" cy="643.70" r="1.75" fill="#741848" stroke="#4a1030" stroke-width="0.35"/>
<circle cx="147.70" cy="648.60" r="1.75" fill="#741848" stroke="#4a1030" stroke-width="0.35"/>
<circle cx="173.20" cy="645.50" r="1.75" fill="#741848" stroke="#4a1030" stroke-width="0.35"/>
<circle cx="159.00" cy="651.00" r="1.75" fill="#741848" stroke="#4a1030" stroke-width="0.35"/>
<circle cx="171.70" cy="654.50" r="1.75" fill="#741848" stroke="#4a1030" stroke-width="0.35"/>
<circle cx="177.00" cy="655.40" r="1.75" fill="#741848" stroke="#4a1030" stroke-width="0.35"/>
<circle cx="172.00" cy="657.80" r="1.75" fill="#741848" stroke="#4a1030" stroke-width="0.35"/>
<circle cx="154.50" cy="657.80" r="1.75" fill="#741848" stroke="#4a1030" stroke-width="0.35"/>
<circle cx="149.20" cy="663.00" r="1.75" fill="#741848" stroke="#4a1030" stroke-width="0.35"/>
<circle cx="150.50" cy="626.90" r="1.75" fill="#4a1f5a" stroke="#30143a" stroke-width="0.35"/>
<circle cx="175.70" cy="684.00" r="1.70" fill="#3a3080" />
<circle cx="162.50" cy="690.80" r="1.70" fill="#3a3a9a" />
<defs><linearGradient id="er" x1="0" x2="0" y1="0" y2="1"><stop offset="0" stop-color="#e0102a"/><stop offset="0.45" stop-color="#b8186a"/><stop offset="1" stop-color="#2a2a9a"/></linearGradient></defs>
<rect x="199.90" y="655.90" width="2.40" height="29.40" fill="url(#er)" />
<text x="203.00" y="658.00" font-size="3.40" text-anchor="start" fill="#444"  stroke="#444" stroke-width="0.18">1.0</text>
<text x="203.00" y="686.00" font-size="3.40" text-anchor="start" fill="#444"  stroke="#444" stroke-width="0.18">0.8</text>
<text transform="translate(198.0,670.3) rotate(-90)" font-size="4.2" text-anchor="middle" fill="#333" stroke="#333" stroke-width="0.12" textLength="34" lengthAdjust="spacingAndGlyphs">Expression ratio</text>
<line x1="327.00" y1="510.80" x2="327.00" y2="694.30" stroke="#111" stroke-width="1.10" />
<line x1="326.50" y1="693.80" x2="513.00" y2="693.80" stroke="#111" stroke-width="1.10" />
<line x1="323.30" y1="518.70" x2="327.00" y2="518.70" stroke="#111" stroke-width="1.00" />
<text x="318.90" y="522.10" font-size="9.40" text-anchor="end" fill="#222"  stroke="#222" stroke-width="0.18">1.00</text>
<line x1="323.30" y1="560.30" x2="327.00" y2="560.30" stroke="#111" stroke-width="1.00" />
<text x="318.90" y="563.70" font-size="9.40" text-anchor="end" fill="#222"  stroke="#222" stroke-width="0.18">0.75</text>
<line x1="323.30" y1="601.90" x2="327.00" y2="601.90" stroke="#111" stroke-width="1.00" />
<text x="318.90" y="605.30" font-size="9.40" text-anchor="end" fill="#222"  stroke="#222" stroke-width="0.18">0.50</text>
<line x1="323.30" y1="643.50" x2="327.00" y2="643.50" stroke="#111" stroke-width="1.00" />
<text x="318.90" y="646.90" font-size="9.40" text-anchor="end" fill="#222"  stroke="#222" stroke-width="0.18">0.25</text>
<line x1="323.30" y1="685.10" x2="327.00" y2="685.10" stroke="#111" stroke-width="1.00" />
<text x="318.90" y="688.50" font-size="9.40" text-anchor="end" fill="#222"  stroke="#222" stroke-width="0.18">0.00</text>
<line x1="335.00" y1="693.80" x2="335.00" y2="697.70" stroke="#111" stroke-width="1.00" />
<text x="335.00" y="710.50" font-size="9.40" text-anchor="middle" fill="#222"  stroke="#222" stroke-width="0.18">0</text>
<line x1="377.50" y1="693.80" x2="377.50" y2="697.70" stroke="#111" stroke-width="1.00" />
<text x="377.50" y="710.50" font-size="9.40" text-anchor="middle" fill="#222"  stroke="#222" stroke-width="0.18">25</text>
<line x1="420.00" y1="693.80" x2="420.00" y2="697.70" stroke="#111" stroke-width="1.00" />
<text x="420.00" y="710.50" font-size="9.40" text-anchor="middle" fill="#222"  stroke="#222" stroke-width="0.18">50</text>
<line x1="462.50" y1="693.80" x2="462.50" y2="697.70" stroke="#111" stroke-width="1.00" />
<text x="462.50" y="710.50" font-size="9.40" text-anchor="middle" fill="#222"  stroke="#222" stroke-width="0.18">75</text>
<line x1="505.00" y1="693.80" x2="505.00" y2="697.70" stroke="#111" stroke-width="1.00" />
<text x="505.00" y="710.50" font-size="9.40" text-anchor="middle" fill="#222"  stroke="#222" stroke-width="0.18">100</text>
<text x="420.00" y="725.50" font-size="11.00" text-anchor="middle" fill="#222" textLength="50.80" lengthAdjust="spacingAndGlyphs" stroke="#222" stroke-width="0.4">Time (months)</text>
<text transform="translate(289.6,602.0) rotate(-90)" font-size="11" text-anchor="middle" fill="#222" stroke="#222" stroke-width="0.35" textLength="13.8" lengthAdjust="spacingAndGlyphs">PFS</text>
<text x="335.4" y="684.2" font-size="9.4" fill="#222" stroke="#222" stroke-width="0.18"><tspan font-style="italic">P</tspan> = .028</text>
<text x="318.80" y="740.50" font-size="8.80" text-anchor="end" fill="#222"  stroke="#222" stroke-width="0.18">High</text>
<text x="318.80" y="753.80" font-size="8.80" text-anchor="end" fill="#222"  stroke="#222" stroke-width="0.18">Low</text>
<text x="335.00" y="740.50" font-size="8.80" text-anchor="middle" fill="#222"  stroke="#222" stroke-width="0.18">24</text>
<text x="335.00" y="753.80" font-size="8.80" text-anchor="middle" fill="#222"  stroke="#222" stroke-width="0.18">24</text>
<text x="377.50" y="740.50" font-size="8.80" text-anchor="middle" fill="#222"  stroke="#222" stroke-width="0.18">11</text>
<text x="377.50" y="753.80" font-size="8.80" text-anchor="middle" fill="#222"  stroke="#222" stroke-width="0.18">17</text>
<text x="420.00" y="740.50" font-size="8.80" text-anchor="middle" fill="#222"  stroke="#222" stroke-width="0.18">8</text>
<text x="420.00" y="753.80" font-size="8.80" text-anchor="middle" fill="#222"  stroke="#222" stroke-width="0.18">13</text>
<text x="462.50" y="740.50" font-size="8.80" text-anchor="middle" fill="#222"  stroke="#222" stroke-width="0.18">4</text>
<text x="462.50" y="753.80" font-size="8.80" text-anchor="middle" fill="#222"  stroke="#222" stroke-width="0.18">6</text>
<text x="505.00" y="740.50" font-size="8.80" text-anchor="middle" fill="#222"  stroke="#222" stroke-width="0.18">1</text>
<text x="505.00" y="753.80" font-size="8.80" text-anchor="middle" fill="#222"  stroke="#222" stroke-width="0.18">1</text>
<polyline points="335.1,518.9 339.3,518.9 339.3,525.7 342.0,525.7 342.0,532.2 346.8,532.2 346.8,548.1 351.0,548.1 351.0,555.9 357.3,555.9 357.3,564.2 360.5,564.2 360.5,580.4 369.4,580.4 369.4,589.4 393.0,589.4 393.0,598.6 513.0,598.6" fill="none" stroke="#d0284e" stroke-width="1.3"/>
<polyline points="335.1,518.9 351.6,518.9 351.6,525.8 354.5,525.8 354.5,533.4 377.6,533.4 377.6,542.0 499.3,542.0 499.3,613.0 505.5,613.0" fill="none" stroke="#36599a" stroke-width="1.3"/>
<line x1="337.40" y1="517.50" x2="337.40" y2="520.30" stroke="#36599a" stroke-width="0.80" />
<line x1="365.80" y1="532.00" x2="365.80" y2="534.80" stroke="#36599a" stroke-width="0.80" />
<line x1="375.60" y1="532.00" x2="375.60" y2="534.80" stroke="#36599a" stroke-width="0.80" />
<line x1="400.50" y1="540.60" x2="400.50" y2="543.40" stroke="#36599a" stroke-width="0.80" />
<line x1="416.25" y1="540.60" x2="416.25" y2="543.40" stroke="#36599a" stroke-width="0.80" />
<line x1="418.25" y1="540.60" x2="418.25" y2="543.40" stroke="#36599a" stroke-width="0.80" />
<line x1="420.00" y1="540.60" x2="420.00" y2="543.40" stroke="#36599a" stroke-width="0.80" />
<line x1="425.00" y1="540.60" x2="425.00" y2="543.40" stroke="#36599a" stroke-width="0.80" />
<line x1="427.00" y1="540.60" x2="427.00" y2="543.40" stroke="#36599a" stroke-width="0.80" />
<line x1="428.00" y1="540.60" x2="428.00" y2="543.40" stroke="#36599a" stroke-width="0.80" />
<line x1="433.75" y1="540.60" x2="433.75" y2="543.40" stroke="#36599a" stroke-width="0.80" />
<line x1="441.25" y1="540.60" x2="441.25" y2="543.40" stroke="#36599a" stroke-width="0.80" />
<line x1="468.75" y1="540.60" x2="468.75" y2="543.40" stroke="#36599a" stroke-width="0.80" />
<line x1="485.00" y1="540.60" x2="485.00" y2="543.40" stroke="#36599a" stroke-width="0.80" />
<line x1="492.00" y1="540.60" x2="492.00" y2="543.40" stroke="#36599a" stroke-width="0.80" />
<line x1="505.00" y1="611.60" x2="505.00" y2="614.40" stroke="#36599a" stroke-width="0.80" />
<line x1="344.30" y1="530.80" x2="344.30" y2="533.60" stroke="#d0284e" stroke-width="0.80" />
<line x1="367.70" y1="579.00" x2="367.70" y2="581.80" stroke="#d0284e" stroke-width="0.80" />
<line x1="388.50" y1="588.00" x2="388.50" y2="590.80" stroke="#d0284e" stroke-width="0.80" />
<line x1="405.50" y1="597.20" x2="405.50" y2="600.00" stroke="#d0284e" stroke-width="0.80" />
<line x1="424.50" y1="597.20" x2="424.50" y2="600.00" stroke="#d0284e" stroke-width="0.80" />
<line x1="433.75" y1="597.20" x2="433.75" y2="600.00" stroke="#d0284e" stroke-width="0.80" />
<line x1="439.50" y1="597.20" x2="439.50" y2="600.00" stroke="#d0284e" stroke-width="0.80" />
<line x1="458.75" y1="597.20" x2="458.75" y2="600.00" stroke="#d0284e" stroke-width="0.80" />
<line x1="461.25" y1="597.20" x2="461.25" y2="600.00" stroke="#d0284e" stroke-width="0.80" />
<line x1="467.50" y1="597.20" x2="467.50" y2="600.00" stroke="#d0284e" stroke-width="0.80" />
<line x1="479.50" y1="597.20" x2="479.50" y2="600.00" stroke="#d0284e" stroke-width="0.80" />
<text x="443.00" y="536.60" font-size="9.40" text-anchor="start" fill="#333" font-style="italic" textLength="50.00" lengthAdjust="spacingAndGlyphs"  stroke="#333" stroke-width="0.18">RadSig Low</text>
<text x="440.80" y="618.10" font-size="9.40" text-anchor="start" fill="#333" font-style="italic" textLength="53.00" lengthAdjust="spacingAndGlyphs"  stroke="#333" stroke-width="0.18">RadSig High</text>
</svg>
</body></html>
